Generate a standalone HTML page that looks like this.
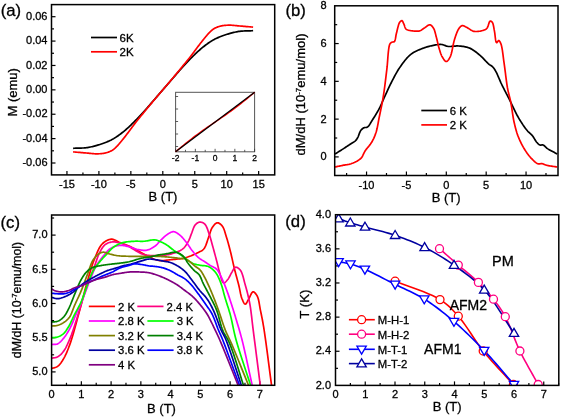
<!DOCTYPE html>
<html><head><meta charset="utf-8"><style>
html,body{margin:0;padding:0;background:#fff;width:562px;height:417px;overflow:hidden}
svg{display:block;will-change:transform}
text{font-family:"Liberation Sans",sans-serif;fill:#000;stroke:#000;stroke-width:0.3px}
</style></head><body>
<svg width="562" height="417" viewBox="0 0 562 417" font-family="Liberation Sans, sans-serif" fill="#000"><line x1="66.95" y1="174.90" x2="66.95" y2="170.90" stroke="#000" stroke-width="1.20"/>
<line x1="82.93" y1="174.90" x2="82.93" y2="172.40" stroke="#000" stroke-width="1.20"/>
<line x1="98.90" y1="174.90" x2="98.90" y2="170.90" stroke="#000" stroke-width="1.20"/>
<line x1="114.88" y1="174.90" x2="114.88" y2="172.40" stroke="#000" stroke-width="1.20"/>
<line x1="130.85" y1="174.90" x2="130.85" y2="170.90" stroke="#000" stroke-width="1.20"/>
<line x1="146.83" y1="174.90" x2="146.83" y2="172.40" stroke="#000" stroke-width="1.20"/>
<line x1="162.80" y1="174.90" x2="162.80" y2="170.90" stroke="#000" stroke-width="1.20"/>
<line x1="178.78" y1="174.90" x2="178.78" y2="172.40" stroke="#000" stroke-width="1.20"/>
<line x1="194.75" y1="174.90" x2="194.75" y2="170.90" stroke="#000" stroke-width="1.20"/>
<line x1="210.73" y1="174.90" x2="210.73" y2="172.40" stroke="#000" stroke-width="1.20"/>
<line x1="226.70" y1="174.90" x2="226.70" y2="170.90" stroke="#000" stroke-width="1.20"/>
<line x1="242.68" y1="174.90" x2="242.68" y2="172.40" stroke="#000" stroke-width="1.20"/>
<line x1="258.65" y1="174.90" x2="258.65" y2="170.90" stroke="#000" stroke-width="1.20"/>
<line x1="51.50" y1="163.00" x2="55.50" y2="163.00" stroke="#000" stroke-width="1.20"/>
<line x1="51.50" y1="150.81" x2="54.00" y2="150.81" stroke="#000" stroke-width="1.20"/>
<line x1="51.50" y1="138.62" x2="55.50" y2="138.62" stroke="#000" stroke-width="1.20"/>
<line x1="51.50" y1="126.43" x2="54.00" y2="126.43" stroke="#000" stroke-width="1.20"/>
<line x1="51.50" y1="114.23" x2="55.50" y2="114.23" stroke="#000" stroke-width="1.20"/>
<line x1="51.50" y1="102.04" x2="54.00" y2="102.04" stroke="#000" stroke-width="1.20"/>
<line x1="51.50" y1="89.85" x2="55.50" y2="89.85" stroke="#000" stroke-width="1.20"/>
<line x1="51.50" y1="77.66" x2="54.00" y2="77.66" stroke="#000" stroke-width="1.20"/>
<line x1="51.50" y1="65.47" x2="55.50" y2="65.47" stroke="#000" stroke-width="1.20"/>
<line x1="51.50" y1="53.27" x2="54.00" y2="53.27" stroke="#000" stroke-width="1.20"/>
<line x1="51.50" y1="41.08" x2="55.50" y2="41.08" stroke="#000" stroke-width="1.20"/>
<line x1="51.50" y1="28.89" x2="54.00" y2="28.89" stroke="#000" stroke-width="1.20"/>
<line x1="51.50" y1="16.70" x2="55.50" y2="16.70" stroke="#000" stroke-width="1.20"/>
<text x="66.95" y="187.50" font-size="11.00" text-anchor="middle" >-15</text>
<text x="98.90" y="187.50" font-size="11.00" text-anchor="middle" >-10</text>
<text x="130.85" y="187.50" font-size="11.00" text-anchor="middle" >-5</text>
<text x="162.80" y="187.50" font-size="11.00" text-anchor="middle" >0</text>
<text x="194.75" y="187.50" font-size="11.00" text-anchor="middle" >5</text>
<text x="226.70" y="187.50" font-size="11.00" text-anchor="middle" >10</text>
<text x="258.65" y="187.50" font-size="11.00" text-anchor="middle" >15</text>
<text x="47.50" y="19.80" font-size="11.00" text-anchor="end" >0.06</text>
<text x="47.50" y="44.18" font-size="11.00" text-anchor="end" >0.04</text>
<text x="47.50" y="68.57" font-size="11.00" text-anchor="end" >0.02</text>
<text x="47.50" y="92.95" font-size="11.00" text-anchor="end" >0.00</text>
<text x="47.50" y="117.33" font-size="11.00" text-anchor="end" >-0.02</text>
<text x="47.50" y="141.72" font-size="11.00" text-anchor="end" >-0.04</text>
<text x="47.50" y="166.10" font-size="11.00" text-anchor="end" >-0.06</text>
<text x="163.00" y="200.50" font-size="13.00" text-anchor="middle" >B (T)</text>
<text transform="translate(17.0 92.3) rotate(-90)" font-size="13" text-anchor="middle">M (emu)</text>
<text x="0.70" y="16.40" font-size="16.70" text-anchor="start" >(a)</text>
<path d="M73.10 148.30 L74.44 148.25 L75.80 148.21 L77.16 148.18 L78.53 148.15 L79.89 148.12 L81.24 148.08 L82.57 148.02 L83.88 147.95 L85.16 147.84 L86.40 147.70 L87.44 147.55 L88.47 147.38 L89.48 147.20 L90.47 147.00 L91.44 146.78 L92.40 146.56 L93.35 146.32 L94.28 146.08 L95.20 145.84 L96.10 145.60 L96.89 145.38 L97.66 145.16 L98.42 144.93 L99.17 144.70 L99.90 144.46 L100.63 144.22 L101.35 143.97 L102.07 143.72 L102.79 143.46 L103.50 143.20 L104.18 142.95 L104.86 142.70 L105.53 142.44 L106.20 142.18 L106.86 141.92 L107.52 141.65 L108.17 141.38 L108.82 141.10 L109.46 140.80 L110.10 140.50 L110.72 140.20 L111.32 139.89 L111.91 139.59 L112.49 139.27 L113.07 138.95 L113.66 138.62 L114.25 138.27 L114.85 137.90 L115.47 137.51 L116.10 137.10 L116.94 136.54 L117.81 135.94 L118.70 135.30 L119.60 134.64 L120.52 133.96 L121.45 133.25 L122.37 132.53 L123.29 131.79 L124.20 131.05 L125.10 130.30 L126.04 129.50 L126.97 128.69 L127.89 127.86 L128.81 127.02 L129.73 126.16 L130.65 125.29 L131.57 124.39 L132.50 123.48 L133.44 122.55 L134.40 121.60 L135.52 120.47 L136.67 119.29 L137.83 118.07 L139.01 116.82 L140.19 115.56 L141.37 114.29 L142.53 113.01 L143.68 111.75 L144.81 110.51 L145.90 109.30 L146.87 108.21 L147.83 107.13 L148.77 106.05 L149.70 104.98 L150.62 103.92 L151.53 102.86 L152.43 101.81 L153.32 100.76 L154.21 99.73 L155.10 98.70 L155.92 97.75 L156.74 96.82 L157.54 95.89 L158.34 94.97 L159.13 94.06 L159.93 93.15 L160.72 92.24 L161.51 91.33 L162.30 90.42 L163.10 89.50 L163.90 88.58 L164.69 87.67 L165.48 86.76 L166.27 85.85 L167.07 84.94 L167.86 84.03 L168.66 83.11 L169.46 82.18 L170.28 81.25 L171.10 80.30 L171.99 79.27 L172.88 78.24 L173.77 77.19 L174.67 76.14 L175.58 75.08 L176.50 74.02 L177.43 72.95 L178.37 71.87 L179.33 70.79 L180.30 69.70 L181.39 68.49 L182.52 67.25 L183.67 65.99 L184.83 64.71 L186.01 63.44 L187.19 62.18 L188.37 60.93 L189.53 59.71 L190.68 58.53 L191.80 57.40 L192.76 56.45 L193.70 55.52 L194.63 54.61 L195.55 53.71 L196.47 52.84 L197.39 51.98 L198.31 51.14 L199.23 50.31 L200.16 49.50 L201.10 48.70 L202.00 47.95 L202.91 47.21 L203.83 46.47 L204.75 45.75 L205.68 45.04 L206.60 44.36 L207.50 43.70 L208.39 43.06 L209.26 42.46 L210.10 41.90 L210.73 41.49 L211.35 41.10 L211.95 40.73 L212.54 40.38 L213.13 40.05 L213.71 39.73 L214.29 39.41 L214.88 39.11 L215.48 38.80 L216.10 38.50 L216.74 38.20 L217.38 37.90 L218.03 37.62 L218.68 37.35 L219.34 37.08 L220.00 36.82 L220.67 36.56 L221.34 36.30 L222.02 36.05 L222.70 35.80 L223.41 35.54 L224.13 35.28 L224.85 35.03 L225.57 34.78 L226.30 34.54 L227.03 34.30 L227.78 34.07 L228.54 33.84 L229.31 33.62 L230.10 33.40 L231.00 33.16 L231.92 32.92 L232.85 32.68 L233.80 32.44 L234.76 32.22 L235.73 32.00 L236.72 31.80 L237.73 31.62 L238.76 31.45 L239.80 31.30 L241.04 31.16 L242.32 31.05 L243.63 30.98 L244.96 30.92 L246.31 30.88 L247.67 30.85 L249.04 30.82 L250.40 30.79 L251.76 30.75 L253.10 30.70" fill="none" stroke="#000" stroke-width="1.7"/>
<path d="M73.10 151.90 L74.44 152.01 L75.79 152.12 L77.16 152.24 L78.52 152.35 L79.88 152.46 L81.23 152.57 L82.56 152.68 L83.87 152.79 L85.15 152.90 L86.40 153.00 L87.44 153.09 L88.46 153.19 L89.47 153.29 L90.47 153.40 L91.44 153.49 L92.41 153.59 L93.35 153.67 L94.29 153.73 L95.20 153.78 L96.10 153.80 L96.85 153.81 L97.58 153.80 L98.31 153.79 L99.02 153.77 L99.72 153.74 L100.41 153.70 L101.09 153.64 L101.77 153.58 L102.44 153.50 L103.10 153.40 L103.71 153.30 L104.32 153.19 L104.92 153.06 L105.52 152.93 L106.11 152.78 L106.69 152.63 L107.26 152.46 L107.82 152.28 L108.37 152.10 L108.90 151.90 L109.36 151.72 L109.80 151.53 L110.24 151.34 L110.67 151.13 L111.08 150.92 L111.49 150.70 L111.90 150.47 L112.30 150.23 L112.70 149.97 L113.10 149.70 L113.52 149.40 L113.93 149.08 L114.33 148.75 L114.73 148.41 L115.12 148.05 L115.51 147.69 L115.90 147.31 L116.30 146.91 L116.70 146.51 L117.10 146.10 L117.59 145.59 L118.07 145.07 L118.56 144.53 L119.05 143.97 L119.54 143.39 L120.04 142.80 L120.54 142.20 L121.05 141.58 L121.57 140.94 L122.10 140.30 L122.76 139.48 L123.44 138.63 L124.14 137.75 L124.85 136.85 L125.56 135.92 L126.28 134.99 L127.00 134.06 L127.71 133.13 L128.41 132.20 L129.10 131.30 L129.75 130.44 L130.37 129.60 L130.99 128.76 L131.60 127.93 L132.21 127.09 L132.83 126.25 L133.46 125.39 L134.11 124.52 L134.79 123.62 L135.50 122.70 L136.45 121.50 L137.45 120.24 L138.49 118.94 L139.57 117.62 L140.67 116.28 L141.78 114.93 L142.89 113.59 L143.99 112.26 L145.06 110.96 L146.10 109.70 L147.03 108.57 L147.95 107.46 L148.86 106.36 L149.77 105.27 L150.67 104.18 L151.57 103.11 L152.46 102.05 L153.34 100.99 L154.22 99.94 L155.10 98.90 L155.92 97.93 L156.73 96.98 L157.53 96.03 L158.33 95.09 L159.13 94.16 L159.92 93.23 L160.71 92.30 L161.51 91.37 L162.30 90.44 L163.10 89.50 L163.90 88.56 L164.69 87.63 L165.49 86.70 L166.28 85.77 L167.07 84.84 L167.87 83.91 L168.67 82.97 L169.47 82.02 L170.28 81.07 L171.10 80.10 L171.98 79.06 L172.86 78.01 L173.74 76.95 L174.63 75.89 L175.53 74.82 L176.43 73.73 L177.34 72.64 L178.25 71.54 L179.17 70.43 L180.10 69.30 L181.14 68.04 L182.21 66.74 L183.31 65.41 L184.42 64.07 L185.53 62.72 L186.63 61.38 L187.71 60.06 L188.75 58.76 L189.75 57.50 L190.70 56.30 L191.41 55.38 L192.09 54.48 L192.74 53.61 L193.37 52.75 L193.99 51.91 L194.60 51.07 L195.21 50.24 L195.83 49.40 L196.45 48.56 L197.10 47.70 L197.79 46.80 L198.49 45.87 L199.20 44.94 L199.92 44.01 L200.64 43.08 L201.35 42.15 L202.06 41.25 L202.76 40.37 L203.44 39.52 L204.10 38.70 L204.63 38.06 L205.15 37.42 L205.66 36.80 L206.16 36.20 L206.66 35.61 L207.15 35.03 L207.64 34.47 L208.13 33.93 L208.61 33.41 L209.10 32.90 L209.50 32.49 L209.90 32.09 L210.30 31.69 L210.69 31.31 L211.08 30.95 L211.47 30.59 L211.87 30.25 L212.27 29.92 L212.68 29.60 L213.10 29.30 L213.50 29.03 L213.90 28.77 L214.30 28.53 L214.71 28.30 L215.12 28.08 L215.53 27.87 L215.96 27.66 L216.40 27.47 L216.84 27.28 L217.30 27.10 L217.83 26.90 L218.38 26.72 L218.94 26.54 L219.51 26.37 L220.09 26.22 L220.68 26.07 L221.28 25.94 L221.88 25.81 L222.49 25.70 L223.10 25.60 L223.76 25.50 L224.43 25.42 L225.11 25.36 L225.79 25.30 L226.48 25.26 L227.18 25.23 L227.89 25.21 L228.62 25.20 L229.35 25.19 L230.10 25.20 L231.00 25.22 L231.91 25.27 L232.85 25.33 L233.79 25.41 L234.76 25.51 L235.73 25.60 L236.73 25.71 L237.74 25.81 L238.76 25.91 L239.80 26.00 L241.05 26.10 L242.33 26.21 L243.64 26.32 L244.97 26.43 L246.32 26.54 L247.68 26.65 L249.04 26.76 L250.41 26.88 L251.76 26.99 L253.10 27.10" fill="none" stroke="#f00" stroke-width="1.7"/>
<line x1="91" y1="37.5" x2="117" y2="37.5" stroke="#000" stroke-width="1.7"/>
<line x1="91" y1="51.8" x2="117" y2="51.8" stroke="#f00" stroke-width="1.7"/>
<text x="119.50" y="41.80" font-size="11.50" text-anchor="start" >6K</text>
<text x="119.50" y="56.00" font-size="11.50" text-anchor="start" >2K</text>
<rect x="175.60" y="92.30" width="79.00" height="59.50" fill="#fff" stroke="#555" stroke-width="1"/>
<line x1="175.60" y1="151.80" x2="175.60" y2="148.80" stroke="#333" stroke-width="0.8"/>
<line x1="185.47" y1="151.80" x2="185.47" y2="149.80" stroke="#333" stroke-width="0.8"/>
<line x1="195.35" y1="151.80" x2="195.35" y2="148.80" stroke="#333" stroke-width="0.8"/>
<line x1="205.22" y1="151.80" x2="205.22" y2="149.80" stroke="#333" stroke-width="0.8"/>
<line x1="215.10" y1="151.80" x2="215.10" y2="148.80" stroke="#333" stroke-width="0.8"/>
<line x1="224.97" y1="151.80" x2="224.97" y2="149.80" stroke="#333" stroke-width="0.8"/>
<line x1="234.85" y1="151.80" x2="234.85" y2="148.80" stroke="#333" stroke-width="0.8"/>
<line x1="244.72" y1="151.80" x2="244.72" y2="149.80" stroke="#333" stroke-width="0.8"/>
<line x1="254.60" y1="151.80" x2="254.60" y2="148.80" stroke="#333" stroke-width="0.8"/>
<line x1="175.60" y1="96.50" x2="178.10" y2="96.50" stroke="#333" stroke-width="0.8"/>
<line x1="175.60" y1="109.00" x2="178.10" y2="109.00" stroke="#333" stroke-width="0.8"/>
<line x1="175.60" y1="121.50" x2="178.10" y2="121.50" stroke="#333" stroke-width="0.8"/>
<line x1="175.60" y1="134.00" x2="178.10" y2="134.00" stroke="#333" stroke-width="0.8"/>
<line x1="175.60" y1="146.50" x2="178.10" y2="146.50" stroke="#333" stroke-width="0.8"/>
<path d="M175.60 151.80 L177.57 150.16 L179.55 148.52 L181.53 146.88 L183.50 145.26 L185.47 143.66 L187.45 142.07 L189.42 140.50 L191.40 138.95 L193.38 137.42 L195.35 135.93 L197.32 134.45 L199.30 133.00 L201.28 131.57 L203.25 130.17 L205.22 128.78 L207.20 127.41 L209.17 126.06 L211.15 124.72 L213.12 123.38 L215.10 122.05 L217.07 120.72 L219.05 119.38 L221.02 118.04 L223.00 116.69 L224.97 115.32 L226.95 113.93 L228.93 112.53 L230.90 111.10 L232.88 109.65 L234.85 108.17 L236.82 106.68 L238.80 105.15 L240.77 103.60 L242.75 102.03 L244.72 100.44 L246.70 98.84 L248.68 97.22 L250.65 95.58 L252.62 93.94 L254.60 92.30" fill="none" stroke="#f00" stroke-width="1.4"/>
<line x1="175.60" y1="151.80" x2="254.60" y2="92.30" stroke="#000" stroke-width="1.2"/>
<text x="175.60" y="160.50" font-size="8.50" text-anchor="middle" >-2</text>
<text x="195.35" y="160.50" font-size="8.50" text-anchor="middle" >-1</text>
<text x="215.10" y="160.50" font-size="8.50" text-anchor="middle" >0</text>
<text x="234.85" y="160.50" font-size="8.50" text-anchor="middle" >1</text>
<text x="254.60" y="160.50" font-size="8.50" text-anchor="middle" >2</text>
<line x1="346.61" y1="175.50" x2="346.61" y2="173.00" stroke="#000" stroke-width="1.20"/>
<line x1="366.55" y1="175.50" x2="366.55" y2="171.50" stroke="#000" stroke-width="1.20"/>
<line x1="386.49" y1="175.50" x2="386.49" y2="173.00" stroke="#000" stroke-width="1.20"/>
<line x1="406.43" y1="175.50" x2="406.43" y2="171.50" stroke="#000" stroke-width="1.20"/>
<line x1="426.36" y1="175.50" x2="426.36" y2="173.00" stroke="#000" stroke-width="1.20"/>
<line x1="446.30" y1="175.50" x2="446.30" y2="171.50" stroke="#000" stroke-width="1.20"/>
<line x1="466.24" y1="175.50" x2="466.24" y2="173.00" stroke="#000" stroke-width="1.20"/>
<line x1="486.18" y1="175.50" x2="486.18" y2="171.50" stroke="#000" stroke-width="1.20"/>
<line x1="506.11" y1="175.50" x2="506.11" y2="173.00" stroke="#000" stroke-width="1.20"/>
<line x1="526.05" y1="175.50" x2="526.05" y2="171.50" stroke="#000" stroke-width="1.20"/>
<line x1="545.99" y1="175.50" x2="545.99" y2="173.00" stroke="#000" stroke-width="1.20"/>
<line x1="334.70" y1="156.90" x2="338.70" y2="156.90" stroke="#000" stroke-width="1.20"/>
<line x1="334.70" y1="138.01" x2="337.20" y2="138.01" stroke="#000" stroke-width="1.20"/>
<line x1="334.70" y1="119.12" x2="338.70" y2="119.12" stroke="#000" stroke-width="1.20"/>
<line x1="334.70" y1="100.23" x2="337.20" y2="100.23" stroke="#000" stroke-width="1.20"/>
<line x1="334.70" y1="81.34" x2="338.70" y2="81.34" stroke="#000" stroke-width="1.20"/>
<line x1="334.70" y1="62.45" x2="337.20" y2="62.45" stroke="#000" stroke-width="1.20"/>
<line x1="334.70" y1="43.56" x2="338.70" y2="43.56" stroke="#000" stroke-width="1.20"/>
<line x1="334.70" y1="24.67" x2="337.20" y2="24.67" stroke="#000" stroke-width="1.20"/>
<text x="366.55" y="188.70" font-size="11.00" text-anchor="middle" >-10</text>
<text x="406.43" y="188.70" font-size="11.00" text-anchor="middle" >-5</text>
<text x="446.30" y="188.70" font-size="11.00" text-anchor="middle" >0</text>
<text x="486.18" y="188.70" font-size="11.00" text-anchor="middle" >5</text>
<text x="526.05" y="188.70" font-size="11.00" text-anchor="middle" >10</text>
<text x="326.60" y="160.40" font-size="11.00" text-anchor="end" >0</text>
<text x="326.60" y="122.62" font-size="11.00" text-anchor="end" >2</text>
<text x="326.60" y="84.84" font-size="11.00" text-anchor="end" >4</text>
<text x="326.60" y="47.06" font-size="11.00" text-anchor="end" >6</text>
<text x="326.60" y="9.28" font-size="11.00" text-anchor="end" >8</text>
<text x="446.20" y="202.00" font-size="13.00" text-anchor="middle" >B (T)</text>
<text transform="translate(305.4 94.5) rotate(-90)" font-size="13" text-anchor="middle">dM/dH (10<tspan font-size="8" dy="-4.5">-7</tspan><tspan dy="4.5">emu/mol)</tspan></text>
<text x="285.50" y="16.30" font-size="16.70" text-anchor="start" >(b)</text>
<path d="M335.00 154.00 L335.87 153.46 L336.74 152.91 L337.62 152.36 L338.50 151.81 L339.38 151.27 L340.25 150.72 L341.11 150.18 L341.96 149.65 L342.79 149.12 L343.60 148.60 L344.29 148.15 L344.97 147.71 L345.64 147.27 L346.30 146.83 L346.95 146.40 L347.59 145.97 L348.23 145.55 L348.85 145.13 L349.48 144.71 L350.10 144.30 L350.67 143.93 L351.26 143.57 L351.85 143.21 L352.44 142.85 L353.02 142.50 L353.58 142.15 L354.11 141.80 L354.62 141.44 L355.08 141.07 L355.50 140.70 L355.78 140.43 L356.02 140.16 L356.25 139.90 L356.45 139.63 L356.65 139.36 L356.83 139.09 L357.02 138.80 L357.20 138.49 L357.39 138.16 L357.60 137.80 L357.92 137.18 L358.23 136.47 L358.53 135.68 L358.84 134.85 L359.15 134.00 L359.47 133.16 L359.80 132.34 L360.15 131.57 L360.51 130.89 L360.90 130.30 L361.19 129.94 L361.49 129.60 L361.79 129.29 L362.11 129.00 L362.43 128.73 L362.75 128.49 L363.08 128.26 L363.42 128.05 L363.76 127.87 L364.10 127.70 L364.41 127.59 L364.74 127.52 L365.06 127.49 L365.40 127.48 L365.73 127.48 L366.07 127.48 L366.40 127.45 L366.74 127.38 L367.07 127.27 L367.40 127.10 L367.94 126.68 L368.47 126.13 L369.00 125.47 L369.52 124.73 L370.05 123.91 L370.57 123.05 L371.10 122.15 L371.63 121.25 L372.16 120.36 L372.70 119.50 L373.34 118.51 L374.00 117.48 L374.67 116.43 L375.34 115.36 L376.01 114.26 L376.68 113.16 L377.34 112.05 L377.98 110.93 L378.60 109.81 L379.20 108.70 L379.76 107.61 L380.29 106.52 L380.80 105.42 L381.30 104.33 L381.78 103.22 L382.27 102.11 L382.75 100.98 L383.25 99.84 L383.76 98.68 L384.30 97.50 L384.93 96.13 L385.57 94.72 L386.22 93.29 L386.88 91.84 L387.55 90.38 L388.23 88.90 L388.93 87.42 L389.64 85.94 L390.36 84.47 L391.10 83.00 L391.89 81.46 L392.68 79.90 L393.49 78.33 L394.31 76.75 L395.15 75.18 L396.01 73.61 L396.89 72.07 L397.80 70.55 L398.73 69.05 L399.70 67.60 L400.68 66.19 L401.68 64.76 L402.72 63.33 L403.77 61.91 L404.85 60.53 L405.95 59.19 L407.07 57.92 L408.20 56.72 L409.34 55.60 L410.50 54.60 L411.46 53.86 L412.44 53.18 L413.43 52.57 L414.43 52.00 L415.44 51.48 L416.46 50.99 L417.48 50.52 L418.52 50.08 L419.56 49.64 L420.60 49.20 L421.64 48.77 L422.69 48.36 L423.76 47.97 L424.83 47.60 L425.90 47.25 L426.98 46.92 L428.06 46.61 L429.14 46.32 L430.22 46.05 L431.30 45.80 L432.35 45.57 L433.42 45.35 L434.50 45.14 L435.59 44.94 L436.67 44.77 L437.73 44.63 L438.78 44.53 L439.79 44.46 L440.77 44.45 L441.70 44.50 L442.39 44.59 L443.04 44.75 L443.66 44.94 L444.25 45.17 L444.84 45.41 L445.43 45.66 L446.03 45.89 L446.65 46.10 L447.30 46.28 L448.00 46.40 L448.96 46.48 L449.97 46.48 L451.02 46.44 L452.10 46.35 L453.21 46.24 L454.34 46.14 L455.47 46.04 L456.60 45.97 L457.71 45.95 L458.80 46.00 L459.89 46.09 L460.98 46.19 L462.08 46.30 L463.17 46.44 L464.26 46.60 L465.35 46.81 L466.43 47.05 L467.50 47.34 L468.56 47.69 L469.60 48.10 L470.73 48.63 L471.86 49.24 L472.98 49.93 L474.09 50.67 L475.18 51.47 L476.27 52.29 L477.33 53.14 L478.38 54.00 L479.40 54.86 L480.40 55.70 L481.35 56.54 L482.29 57.43 L483.22 58.38 L484.14 59.34 L485.03 60.30 L485.90 61.23 L486.74 62.12 L487.54 62.95 L488.29 63.68 L489.00 64.30 L489.38 64.59 L489.74 64.84 L490.09 65.06 L490.43 65.26 L490.75 65.44 L491.07 65.61 L491.38 65.80 L491.69 66.00 L492.00 66.23 L492.30 66.50 L492.65 66.84 L492.98 67.20 L493.30 67.56 L493.61 67.95 L493.92 68.36 L494.23 68.79 L494.54 69.24 L494.85 69.73 L495.17 70.25 L495.50 70.80 L496.06 71.81 L496.62 72.93 L497.19 74.16 L497.77 75.48 L498.36 76.85 L498.96 78.27 L499.58 79.71 L500.20 81.16 L500.84 82.60 L501.50 84.00 L502.26 85.55 L503.04 87.12 L503.84 88.70 L504.66 90.31 L505.49 91.92 L506.34 93.55 L507.18 95.18 L508.03 96.82 L508.87 98.46 L509.70 100.10 L510.55 101.82 L511.39 103.57 L512.23 105.34 L513.08 107.12 L513.92 108.90 L514.77 110.67 L515.63 112.42 L516.50 114.13 L517.39 115.79 L518.30 117.40 L519.14 118.82 L520.00 120.24 L520.88 121.64 L521.77 123.03 L522.66 124.39 L523.56 125.70 L524.45 126.96 L525.32 128.15 L526.17 129.27 L527.00 130.30 L527.57 130.96 L528.13 131.56 L528.70 132.11 L529.26 132.63 L529.81 133.12 L530.35 133.61 L530.88 134.10 L531.40 134.60 L531.91 135.13 L532.40 135.70 L532.88 136.32 L533.33 136.98 L533.77 137.67 L534.20 138.37 L534.62 139.08 L535.03 139.77 L535.44 140.45 L535.86 141.08 L536.27 141.67 L536.70 142.20 L537.02 142.56 L537.33 142.92 L537.64 143.26 L537.95 143.59 L538.27 143.89 L538.58 144.18 L538.90 144.43 L539.23 144.66 L539.56 144.85 L539.90 145.00 L540.20 145.08 L540.51 145.11 L540.83 145.09 L541.15 145.05 L541.47 145.00 L541.79 144.94 L542.12 144.90 L542.45 144.89 L542.77 144.92 L543.10 145.00 L543.52 145.19 L543.94 145.45 L544.34 145.77 L544.75 146.13 L545.16 146.53 L545.58 146.95 L546.02 147.37 L546.48 147.80 L546.97 148.21 L547.50 148.60 L548.30 149.12 L549.18 149.65 L550.11 150.19 L551.08 150.73 L552.09 151.27 L553.12 151.82 L554.16 152.37 L555.19 152.91 L556.21 153.46 L557.20 154.00" fill="none" stroke="#000" stroke-width="1.7"/>
<path d="M335.00 167.00 L335.86 166.82 L336.73 166.64 L337.60 166.45 L338.47 166.27 L339.33 166.09 L340.20 165.90 L341.06 165.72 L341.91 165.55 L342.76 165.37 L343.60 165.20 L344.38 165.05 L345.14 164.93 L345.90 164.82 L346.65 164.72 L347.40 164.61 L348.15 164.49 L348.90 164.35 L349.66 164.17 L350.42 163.96 L351.20 163.70 L352.17 163.33 L353.18 162.92 L354.22 162.47 L355.28 161.98 L356.33 161.45 L357.36 160.89 L358.35 160.29 L359.28 159.65 L360.13 158.99 L360.90 158.30 L361.49 157.65 L361.99 156.97 L362.44 156.24 L362.84 155.49 L363.21 154.72 L363.57 153.94 L363.93 153.14 L364.31 152.35 L364.73 151.57 L365.20 150.80 L365.79 149.95 L366.42 149.11 L367.09 148.27 L367.78 147.43 L368.47 146.59 L369.17 145.74 L369.85 144.87 L370.51 144.00 L371.13 143.11 L371.70 142.20 L372.22 141.29 L372.72 140.38 L373.19 139.46 L373.65 138.53 L374.08 137.58 L374.49 136.62 L374.89 135.63 L375.27 134.62 L375.64 133.58 L376.00 132.50 L376.41 131.15 L376.77 129.76 L377.11 128.32 L377.42 126.85 L377.72 125.34 L378.01 123.80 L378.29 122.23 L378.58 120.64 L378.88 119.03 L379.20 117.40 L379.60 115.46 L380.01 113.48 L380.43 111.47 L380.86 109.42 L381.29 107.33 L381.71 105.22 L382.13 103.08 L382.53 100.91 L382.93 98.72 L383.30 96.50 L383.70 93.96 L384.08 91.35 L384.44 88.70 L384.80 86.01 L385.14 83.29 L385.47 80.55 L385.81 77.82 L386.13 75.09 L386.47 72.38 L386.80 69.70 L387.11 66.95 L387.37 63.99 L387.61 60.92 L387.84 57.81 L388.08 54.77 L388.35 51.89 L388.66 49.26 L389.02 46.98 L389.46 45.12 L390.00 43.80 L390.20 43.49 L390.40 43.23 L390.61 43.00 L390.83 42.82 L391.05 42.66 L391.28 42.53 L391.51 42.41 L391.74 42.30 L391.97 42.20 L392.20 42.10 L392.41 42.03 L392.62 42.00 L392.84 41.98 L393.06 41.99 L393.28 41.99 L393.50 41.99 L393.71 41.97 L393.92 41.93 L394.12 41.84 L394.30 41.70 L394.63 41.26 L394.91 40.65 L395.15 39.90 L395.35 39.02 L395.54 38.06 L395.71 37.05 L395.88 36.01 L396.06 34.96 L396.27 33.95 L396.50 33.00 L396.78 31.93 L397.06 30.77 L397.35 29.55 L397.64 28.32 L397.95 27.09 L398.26 25.91 L398.59 24.81 L398.94 23.82 L399.31 22.97 L399.70 22.30 L399.91 22.02 L400.12 21.76 L400.34 21.51 L400.57 21.29 L400.80 21.09 L401.03 20.93 L401.26 20.81 L401.48 20.72 L401.70 20.68 L401.90 20.70 L402.14 20.81 L402.37 21.03 L402.59 21.33 L402.80 21.70 L403.00 22.12 L403.20 22.57 L403.40 23.05 L403.60 23.52 L403.80 23.98 L404.00 24.40 L404.21 24.86 L404.40 25.36 L404.57 25.88 L404.73 26.42 L404.90 26.95 L405.09 27.47 L405.30 27.96 L405.55 28.43 L405.85 28.84 L406.20 29.20 L406.68 29.54 L407.22 29.82 L407.83 30.05 L408.48 30.24 L409.17 30.40 L409.88 30.53 L410.60 30.64 L411.32 30.73 L412.02 30.82 L412.70 30.90 L413.38 30.98 L414.07 31.06 L414.77 31.13 L415.47 31.18 L416.18 31.21 L416.88 31.22 L417.56 31.20 L418.23 31.14 L418.88 31.04 L419.50 30.90 L420.04 30.72 L420.56 30.50 L421.06 30.24 L421.54 29.95 L422.01 29.63 L422.48 29.30 L422.95 28.97 L423.43 28.63 L423.91 28.31 L424.40 28.00 L424.94 27.65 L425.48 27.25 L426.04 26.82 L426.61 26.38 L427.17 25.95 L427.72 25.56 L428.27 25.22 L428.80 24.97 L429.31 24.82 L429.80 24.80 L430.22 24.89 L430.63 25.06 L431.03 25.30 L431.42 25.60 L431.80 25.96 L432.17 26.36 L432.52 26.79 L432.86 27.25 L433.19 27.72 L433.50 28.20 L433.90 28.91 L434.25 29.69 L434.57 30.55 L434.87 31.47 L435.14 32.43 L435.40 33.42 L435.64 34.42 L435.89 35.43 L436.14 36.43 L436.40 37.40 L436.68 38.43 L436.94 39.48 L437.19 40.55 L437.43 41.63 L437.68 42.72 L437.92 43.80 L438.17 44.88 L438.43 45.94 L438.71 46.98 L439.00 48.00 L439.28 48.93 L439.56 49.88 L439.84 50.82 L440.13 51.75 L440.43 52.67 L440.74 53.57 L441.07 54.44 L441.42 55.27 L441.80 56.06 L442.20 56.80 L442.56 57.40 L442.94 58.03 L443.34 58.67 L443.75 59.30 L444.18 59.88 L444.61 60.41 L445.04 60.86 L445.47 61.20 L445.89 61.42 L446.30 61.50 L446.70 61.42 L447.11 61.22 L447.51 60.90 L447.92 60.48 L448.32 59.98 L448.72 59.41 L449.11 58.80 L449.49 58.15 L449.85 57.47 L450.20 56.80 L450.75 55.52 L451.23 54.02 L451.67 52.33 L452.08 50.51 L452.47 48.61 L452.84 46.67 L453.22 44.74 L453.62 42.87 L454.04 41.11 L454.50 39.50 L454.89 38.27 L455.29 37.04 L455.70 35.82 L456.11 34.62 L456.52 33.46 L456.95 32.35 L457.39 31.31 L457.85 30.34 L458.32 29.47 L458.80 28.70 L459.11 28.27 L459.41 27.85 L459.72 27.45 L460.04 27.08 L460.36 26.74 L460.69 26.44 L461.02 26.18 L461.37 25.97 L461.73 25.81 L462.10 25.70 L462.49 25.66 L462.88 25.69 L463.29 25.78 L463.70 25.91 L464.13 26.09 L464.56 26.29 L465.01 26.51 L465.46 26.75 L465.93 26.98 L466.40 27.20 L467.07 27.54 L467.76 27.95 L468.48 28.41 L469.21 28.90 L469.97 29.41 L470.73 29.90 L471.51 30.35 L472.30 30.75 L473.10 31.08 L473.90 31.30 L474.74 31.43 L475.62 31.50 L476.53 31.50 L477.46 31.46 L478.39 31.37 L479.31 31.24 L480.20 31.08 L481.06 30.90 L481.86 30.70 L482.60 30.50 L483.11 30.35 L483.60 30.20 L484.08 30.03 L484.53 29.86 L484.96 29.67 L485.38 29.46 L485.78 29.22 L486.17 28.95 L486.54 28.65 L486.90 28.30 L487.32 27.73 L487.69 27.00 L488.02 26.16 L488.32 25.25 L488.60 24.33 L488.88 23.44 L489.15 22.63 L489.44 21.95 L489.75 21.46 L490.10 21.20 L490.31 21.15 L490.53 21.15 L490.76 21.19 L491.00 21.26 L491.23 21.37 L491.46 21.51 L491.69 21.68 L491.90 21.87 L492.11 22.08 L492.30 22.30 L492.62 22.81 L492.90 23.45 L493.14 24.21 L493.34 25.06 L493.53 25.98 L493.70 26.95 L493.87 27.95 L494.04 28.95 L494.21 29.94 L494.40 30.90 L494.62 32.10 L494.81 33.48 L494.99 34.97 L495.17 36.51 L495.35 38.02 L495.54 39.43 L495.75 40.67 L495.99 41.68 L496.27 42.38 L496.60 42.70 L496.78 42.68 L496.98 42.55 L497.19 42.32 L497.40 42.02 L497.62 41.70 L497.84 41.37 L498.06 41.06 L498.28 40.81 L498.49 40.65 L498.70 40.60 L498.93 40.66 L499.16 40.80 L499.39 41.02 L499.62 41.29 L499.84 41.62 L500.06 41.99 L500.28 42.41 L500.49 42.85 L500.70 43.32 L500.90 43.80 L501.32 45.04 L501.70 46.56 L502.04 48.30 L502.36 50.23 L502.66 52.29 L502.95 54.45 L503.23 56.67 L503.51 58.89 L503.80 61.09 L504.10 63.20 L504.44 65.59 L504.78 68.07 L505.10 70.63 L505.43 73.23 L505.75 75.84 L506.08 78.43 L506.41 80.97 L506.76 83.43 L507.12 85.79 L507.50 88.00 L507.81 89.58 L508.13 91.08 L508.46 92.52 L508.80 93.90 L509.14 95.26 L509.49 96.61 L509.83 97.97 L510.16 99.36 L510.49 100.80 L510.80 102.30 L511.14 104.13 L511.46 106.03 L511.76 107.98 L512.05 109.97 L512.34 111.97 L512.63 113.98 L512.94 115.98 L513.26 117.94 L513.61 119.85 L514.00 121.70 L514.36 123.30 L514.73 124.88 L515.11 126.44 L515.50 127.97 L515.91 129.49 L516.33 130.98 L516.78 132.46 L517.26 133.92 L517.76 135.37 L518.30 136.80 L518.85 138.17 L519.43 139.53 L520.04 140.88 L520.68 142.22 L521.34 143.54 L522.01 144.84 L522.70 146.11 L523.39 147.35 L524.10 148.54 L524.80 149.70 L525.41 150.67 L526.03 151.61 L526.66 152.54 L527.30 153.44 L527.94 154.31 L528.60 155.16 L529.26 155.99 L529.93 156.79 L530.61 157.56 L531.30 158.30 L531.92 158.95 L532.56 159.61 L533.22 160.27 L533.88 160.91 L534.54 161.52 L535.21 162.09 L535.87 162.61 L536.52 163.06 L537.17 163.42 L537.80 163.70 L538.24 163.82 L538.68 163.88 L539.11 163.89 L539.55 163.86 L539.98 163.81 L540.40 163.75 L540.83 163.70 L541.25 163.66 L541.68 163.66 L542.10 163.70 L542.53 163.79 L542.93 163.91 L543.33 164.05 L543.73 164.20 L544.13 164.37 L544.54 164.55 L544.96 164.72 L545.41 164.89 L545.89 165.05 L546.40 165.20 L547.28 165.41 L548.24 165.60 L549.27 165.79 L550.36 165.97 L551.49 166.14 L552.64 166.31 L553.80 166.48 L554.96 166.65 L556.10 166.82 L557.20 167.00" fill="none" stroke="#f00" stroke-width="1.7"/>
<line x1="421.3" y1="110.5" x2="447" y2="110.5" stroke="#000" stroke-width="1.7"/>
<line x1="421.3" y1="124.9" x2="447" y2="124.9" stroke="#f00" stroke-width="1.7"/>
<text x="449.80" y="114.80" font-size="11.40" text-anchor="start" >6 K</text>
<text x="449.80" y="129.10" font-size="11.40" text-anchor="start" >2 K</text>
<line x1="66.47" y1="385.30" x2="66.47" y2="382.80" stroke="#000" stroke-width="1.20"/>
<line x1="81.35" y1="385.30" x2="81.35" y2="381.30" stroke="#000" stroke-width="1.20"/>
<line x1="96.22" y1="385.30" x2="96.22" y2="382.80" stroke="#000" stroke-width="1.20"/>
<line x1="111.10" y1="385.30" x2="111.10" y2="381.30" stroke="#000" stroke-width="1.20"/>
<line x1="125.97" y1="385.30" x2="125.97" y2="382.80" stroke="#000" stroke-width="1.20"/>
<line x1="140.85" y1="385.30" x2="140.85" y2="381.30" stroke="#000" stroke-width="1.20"/>
<line x1="155.72" y1="385.30" x2="155.72" y2="382.80" stroke="#000" stroke-width="1.20"/>
<line x1="170.60" y1="385.30" x2="170.60" y2="381.30" stroke="#000" stroke-width="1.20"/>
<line x1="185.47" y1="385.30" x2="185.47" y2="382.80" stroke="#000" stroke-width="1.20"/>
<line x1="200.35" y1="385.30" x2="200.35" y2="381.30" stroke="#000" stroke-width="1.20"/>
<line x1="215.22" y1="385.30" x2="215.22" y2="382.80" stroke="#000" stroke-width="1.20"/>
<line x1="230.10" y1="385.30" x2="230.10" y2="381.30" stroke="#000" stroke-width="1.20"/>
<line x1="244.97" y1="385.30" x2="244.97" y2="382.80" stroke="#000" stroke-width="1.20"/>
<line x1="259.85" y1="385.30" x2="259.85" y2="381.30" stroke="#000" stroke-width="1.20"/>
<line x1="51.60" y1="371.90" x2="55.60" y2="371.90" stroke="#000" stroke-width="1.20"/>
<line x1="51.60" y1="354.80" x2="54.10" y2="354.80" stroke="#000" stroke-width="1.20"/>
<line x1="51.60" y1="337.70" x2="55.60" y2="337.70" stroke="#000" stroke-width="1.20"/>
<line x1="51.60" y1="320.60" x2="54.10" y2="320.60" stroke="#000" stroke-width="1.20"/>
<line x1="51.60" y1="303.50" x2="55.60" y2="303.50" stroke="#000" stroke-width="1.20"/>
<line x1="51.60" y1="286.40" x2="54.10" y2="286.40" stroke="#000" stroke-width="1.20"/>
<line x1="51.60" y1="269.30" x2="55.60" y2="269.30" stroke="#000" stroke-width="1.20"/>
<line x1="51.60" y1="252.20" x2="54.10" y2="252.20" stroke="#000" stroke-width="1.20"/>
<line x1="51.60" y1="235.10" x2="55.60" y2="235.10" stroke="#000" stroke-width="1.20"/>
<line x1="51.60" y1="218.00" x2="54.10" y2="218.00" stroke="#000" stroke-width="1.20"/>
<text x="51.60" y="398.40" font-size="11.00" text-anchor="middle" >0</text>
<text x="81.35" y="398.40" font-size="11.00" text-anchor="middle" >1</text>
<text x="111.10" y="398.40" font-size="11.00" text-anchor="middle" >2</text>
<text x="140.85" y="398.40" font-size="11.00" text-anchor="middle" >3</text>
<text x="170.60" y="398.40" font-size="11.00" text-anchor="middle" >4</text>
<text x="200.35" y="398.40" font-size="11.00" text-anchor="middle" >5</text>
<text x="230.10" y="398.40" font-size="11.00" text-anchor="middle" >6</text>
<text x="259.85" y="398.40" font-size="11.00" text-anchor="middle" >7</text>
<text x="47.50" y="375.10" font-size="11.00" text-anchor="end" >5.0</text>
<text x="47.50" y="340.90" font-size="11.00" text-anchor="end" >5.5</text>
<text x="47.50" y="306.70" font-size="11.00" text-anchor="end" >6.0</text>
<text x="47.50" y="272.50" font-size="11.00" text-anchor="end" >6.5</text>
<text x="47.50" y="238.30" font-size="11.00" text-anchor="end" >7.0</text>
<text x="161.50" y="413.40" font-size="13.00" text-anchor="middle" >B (T)</text>
<text transform="translate(20.8 300) rotate(-90)" font-size="12.4" text-anchor="middle">dM/dH (10<tspan font-size="7.8" dy="-4.3">-7</tspan><tspan dy="4.3">emu/mol)</tspan></text>
<text x="0.50" y="227.60" font-size="16.70" text-anchor="start" >(c)</text>
<defs><clipPath id="clipc"><rect x="51.60" y="215.00" width="223.10" height="170.30"/></clipPath><clipPath id="clipd"><rect x="335.5" y="214.7" width="223.3" height="170.7"/></clipPath></defs>
<g clip-path="url(#clipc)">
<path d="M51.60 368.48 L52.20 368.29 L52.81 368.13 L53.42 367.98 L54.03 367.83 L54.64 367.68 L55.24 367.51 L55.84 367.31 L56.42 367.07 L57.00 366.78 L57.55 366.43 L58.21 365.91 L58.85 365.33 L59.47 364.68 L60.08 363.98 L60.67 363.23 L61.25 362.43 L61.82 361.59 L62.39 360.72 L62.95 359.82 L63.50 358.90 L64.21 357.66 L64.90 356.36 L65.58 354.99 L66.23 353.56 L66.88 352.08 L67.52 350.54 L68.15 348.95 L68.78 347.30 L69.41 345.60 L70.05 343.86 L70.90 341.39 L71.75 338.77 L72.59 336.02 L73.42 333.17 L74.25 330.24 L75.07 327.25 L75.90 324.22 L76.72 321.18 L77.55 318.14 L78.38 315.13 L79.27 311.86 L80.16 308.50 L81.06 305.07 L81.95 301.61 L82.84 298.14 L83.74 294.69 L84.63 291.29 L85.52 287.95 L86.41 284.72 L87.30 281.61 L88.04 279.08 L88.76 276.58 L89.48 274.11 L90.19 271.69 L90.90 269.32 L91.63 267.00 L92.37 264.74 L93.13 262.54 L93.92 260.41 L94.74 258.36 L95.41 256.71 L96.08 255.07 L96.74 253.45 L97.42 251.87 L98.11 250.34 L98.83 248.87 L99.59 247.49 L100.39 246.21 L101.25 245.03 L102.17 243.99 L102.96 243.24 L103.78 242.53 L104.65 241.86 L105.54 241.25 L106.45 240.71 L107.38 240.23 L108.32 239.84 L109.25 239.53 L110.18 239.32 L111.10 239.20 L111.98 239.22 L112.85 239.37 L113.72 239.62 L114.59 239.97 L115.47 240.38 L116.35 240.83 L117.25 241.30 L118.16 241.77 L119.08 242.22 L120.03 242.62 L121.14 243.06 L122.28 243.49 L123.44 243.93 L124.62 244.37 L125.81 244.83 L127.02 245.30 L128.23 245.79 L129.46 246.30 L130.69 246.84 L131.93 247.41 L133.37 248.13 L134.84 248.92 L136.33 249.75 L137.84 250.63 L139.36 251.52 L140.88 252.41 L142.39 253.28 L143.89 254.12 L145.36 254.90 L146.80 255.62 L148.03 256.21 L149.23 256.81 L150.43 257.39 L151.61 257.96 L152.78 258.50 L153.95 259.00 L155.13 259.45 L156.31 259.84 L157.50 260.17 L158.70 260.41 L159.87 260.56 L161.03 260.62 L162.20 260.62 L163.37 260.56 L164.54 260.46 L165.73 260.32 L166.92 260.17 L168.13 260.01 L169.36 259.86 L170.60 259.72 L172.03 259.59 L173.49 259.46 L174.98 259.32 L176.49 259.17 L178.01 259.01 L179.54 258.81 L181.05 258.59 L182.55 258.33 L184.03 258.03 L185.48 257.67 L186.89 257.26 L188.34 256.79 L189.79 256.27 L191.24 255.72 L192.67 255.13 L194.05 254.54 L195.38 253.93 L196.64 253.33 L197.80 252.75 L198.86 252.20 L199.49 251.87 L200.08 251.57 L200.64 251.29 L201.16 251.01 L201.66 250.72 L202.14 250.42 L202.60 250.09 L203.05 249.71 L203.49 249.28 L203.92 248.78 L204.52 247.93 L205.07 246.94 L205.59 245.84 L206.08 244.65 L206.54 243.39 L206.98 242.11 L207.41 240.81 L207.83 239.54 L208.25 238.31 L208.68 237.15 L209.05 236.14 L209.39 235.12 L209.71 234.09 L210.02 233.06 L210.33 232.05 L210.65 231.07 L210.99 230.12 L211.37 229.21 L211.78 228.36 L212.25 227.58 L212.68 226.94 L213.13 226.30 L213.62 225.66 L214.12 225.04 L214.64 224.46 L215.17 223.94 L215.70 223.49 L216.24 223.14 L216.78 222.90 L217.31 222.79 L217.81 222.80 L218.33 222.92 L218.86 223.14 L219.40 223.43 L219.93 223.79 L220.46 224.21 L220.97 224.68 L221.47 225.17 L221.93 225.68 L222.37 226.21 L222.89 226.96 L223.36 227.82 L223.78 228.76 L224.17 229.77 L224.53 230.83 L224.88 231.93 L225.21 233.06 L225.54 234.21 L225.88 235.35 L226.23 236.47 L226.64 237.74 L227.04 239.03 L227.44 240.34 L227.82 241.67 L228.21 243.03 L228.59 244.40 L228.96 245.80 L229.34 247.22 L229.72 248.67 L230.10 250.15 L230.55 251.94 L231.00 253.80 L231.44 255.71 L231.89 257.66 L232.33 259.64 L232.77 261.62 L233.22 263.59 L233.66 265.54 L234.11 267.45 L234.56 269.30 L234.98 270.94 L235.40 272.57 L235.83 274.17 L236.25 275.76 L236.68 277.33 L237.10 278.89 L237.52 280.44 L237.94 281.98 L238.34 283.51 L238.73 285.03 L239.07 286.47 L239.39 287.93 L239.69 289.41 L239.99 290.89 L240.28 292.34 L240.58 293.76 L240.90 295.12 L241.23 296.42 L241.60 297.62 L242.00 298.71 L242.29 299.43 L242.60 300.17 L242.91 300.92 L243.23 301.64 L243.57 302.31 L243.90 302.92 L244.25 303.43 L244.59 303.83 L244.93 304.09 L245.27 304.18 L245.62 304.09 L245.97 303.81 L246.32 303.38 L246.67 302.83 L247.03 302.18 L247.39 301.48 L247.75 300.75 L248.11 300.03 L248.48 299.34 L248.84 298.71 L249.25 298.00 L249.65 297.20 L250.05 296.32 L250.46 295.43 L250.86 294.56 L251.28 293.74 L251.69 293.03 L252.12 292.45 L252.56 292.05 L253.01 291.87 L253.41 291.89 L253.83 292.04 L254.27 292.31 L254.71 292.67 L255.16 293.11 L255.60 293.62 L256.02 294.18 L256.43 294.76 L256.82 295.37 L257.17 295.98 L257.67 297.02 L258.09 298.21 L258.46 299.54 L258.79 300.97 L259.08 302.47 L259.35 304.04 L259.61 305.63 L259.87 307.23 L260.15 308.81 L260.45 310.34 L260.78 311.94 L261.11 313.49 L261.42 315.02 L261.74 316.55 L262.05 318.12 L262.37 319.75 L262.69 321.47 L263.02 323.31 L263.36 325.29 L263.72 327.44 L264.44 332.05 L265.20 337.30 L266.01 343.10 L266.85 349.31 L267.71 355.83 L268.58 362.54 L269.46 369.33 L270.34 376.08 L271.20 382.67 L272.05 389.00" fill="none" stroke="#ff0000" stroke-width="1.7"/>
<path d="M51.60 358.22 L52.20 358.10 L52.80 358.00 L53.41 357.91 L54.01 357.82 L54.62 357.73 L55.22 357.63 L55.82 357.49 L56.41 357.33 L56.98 357.12 L57.55 356.85 L58.19 356.49 L58.82 356.08 L59.43 355.63 L60.04 355.14 L60.64 354.60 L61.23 354.03 L61.81 353.42 L62.38 352.77 L62.95 352.09 L63.50 351.38 L64.22 350.36 L64.93 349.25 L65.61 348.06 L66.27 346.80 L66.92 345.49 L67.56 344.12 L68.19 342.72 L68.81 341.29 L69.43 339.84 L70.05 338.38 L70.77 336.60 L71.48 334.77 L72.16 332.89 L72.84 330.96 L73.50 328.99 L74.16 326.98 L74.83 324.92 L75.50 322.83 L76.19 320.71 L76.89 318.55 L77.75 315.88 L78.61 313.09 L79.49 310.21 L80.38 307.27 L81.27 304.29 L82.17 301.31 L83.08 298.34 L83.99 295.42 L84.90 292.57 L85.81 289.82 L86.64 287.42 L87.48 285.04 L88.34 282.69 L89.20 280.36 L90.05 278.06 L90.91 275.81 L91.75 273.59 L92.57 271.42 L93.37 269.31 L94.14 267.25 L94.74 265.59 L95.31 263.95 L95.86 262.33 L96.40 260.73 L96.93 259.17 L97.47 257.65 L98.01 256.19 L98.58 254.79 L99.17 253.46 L99.80 252.20 L100.28 251.29 L100.76 250.41 L101.25 249.55 L101.74 248.72 L102.24 247.93 L102.76 247.18 L103.31 246.48 L103.89 245.82 L104.50 245.22 L105.15 244.68 L105.79 244.22 L106.45 243.80 L107.14 243.42 L107.85 243.08 L108.59 242.78 L109.35 242.53 L110.13 242.32 L110.93 242.15 L111.75 242.02 L112.59 241.94 L113.69 241.91 L114.84 241.97 L116.04 242.11 L117.27 242.33 L118.53 242.60 L119.81 242.94 L121.12 243.32 L122.43 243.74 L123.76 244.20 L125.08 244.68 L126.78 245.40 L128.53 246.29 L130.33 247.32 L132.15 248.43 L133.98 249.58 L135.82 250.72 L137.65 251.81 L139.45 252.79 L141.22 253.62 L142.93 254.25 L144.27 254.62 L145.59 254.92 L146.90 255.14 L148.20 255.31 L149.49 255.42 L150.76 255.50 L152.02 255.55 L153.27 255.58 L154.50 255.60 L155.72 255.62 L156.81 255.63 L157.88 255.63 L158.93 255.61 L159.97 255.57 L161.01 255.52 L162.03 255.44 L163.06 255.34 L164.08 255.23 L165.11 255.09 L166.14 254.94 L167.20 254.76 L168.27 254.55 L169.35 254.33 L170.43 254.09 L171.50 253.83 L172.57 253.54 L173.61 253.24 L174.62 252.91 L175.61 252.57 L176.55 252.20 L177.35 251.87 L178.13 251.53 L178.90 251.18 L179.65 250.82 L180.38 250.43 L181.09 250.03 L181.77 249.60 L182.44 249.13 L183.08 248.63 L183.69 248.10 L184.31 247.48 L184.90 246.80 L185.46 246.08 L186.00 245.33 L186.51 244.54 L187.00 243.75 L187.47 242.94 L187.92 242.13 L188.34 241.34 L188.75 240.57 L189.08 239.89 L189.39 239.22 L189.66 238.55 L189.92 237.88 L190.16 237.21 L190.39 236.53 L190.63 235.85 L190.88 235.15 L191.14 234.45 L191.43 233.73 L191.77 232.86 L192.10 231.93 L192.44 230.96 L192.79 229.97 L193.15 228.98 L193.52 228.02 L193.92 227.10 L194.34 226.25 L194.80 225.49 L195.29 224.84 L195.68 224.41 L196.09 224.01 L196.52 223.63 L196.96 223.29 L197.41 222.98 L197.87 222.71 L198.34 222.48 L198.81 222.30 L199.28 222.17 L199.76 222.10 L200.25 222.09 L200.76 222.13 L201.29 222.23 L201.82 222.37 L202.35 222.56 L202.88 222.80 L203.40 223.08 L203.90 223.40 L204.37 223.76 L204.81 224.16 L205.40 224.83 L205.93 225.64 L206.43 226.56 L206.89 227.58 L207.32 228.67 L207.73 229.81 L208.12 230.98 L208.50 232.15 L208.89 233.30 L209.27 234.42 L209.68 235.59 L210.07 236.77 L210.44 237.98 L210.79 239.19 L211.14 240.42 L211.48 241.67 L211.81 242.92 L212.15 244.18 L212.49 245.45 L212.84 246.73 L213.23 248.12 L213.63 249.55 L214.02 251.00 L214.42 252.46 L214.81 253.93 L215.21 255.40 L215.59 256.86 L215.98 258.30 L216.35 259.71 L216.71 261.09 L217.02 262.31 L217.32 263.51 L217.61 264.70 L217.88 265.87 L218.16 267.04 L218.44 268.19 L218.73 269.34 L219.03 270.47 L219.35 271.60 L219.69 272.72 L220.02 273.86 L220.36 275.11 L220.70 276.42 L221.05 277.74 L221.41 279.01 L221.78 280.20 L222.18 281.24 L222.61 282.08 L223.07 282.68 L223.56 282.98 L223.93 283.00 L224.33 282.89 L224.74 282.66 L225.18 282.34 L225.62 281.94 L226.06 281.49 L226.50 281.01 L226.92 280.51 L227.33 280.02 L227.72 279.56 L228.16 278.99 L228.57 278.37 L228.96 277.70 L229.34 276.99 L229.71 276.27 L230.08 275.53 L230.44 274.80 L230.81 274.07 L231.19 273.38 L231.59 272.72 L231.96 272.10 L232.32 271.43 L232.68 270.74 L233.04 270.04 L233.41 269.38 L233.79 268.76 L234.18 268.21 L234.58 267.76 L235.01 267.43 L235.45 267.25 L235.89 267.21 L236.35 267.26 L236.84 267.39 L237.34 267.60 L237.84 267.88 L238.35 268.21 L238.85 268.60 L239.33 269.03 L239.79 269.49 L240.21 269.98 L240.88 270.95 L241.49 272.13 L242.04 273.48 L242.56 274.98 L243.04 276.58 L243.50 278.26 L243.94 279.98 L244.38 281.70 L244.82 283.40 L245.27 285.03 L245.77 286.78 L246.26 288.53 L246.74 290.30 L247.20 292.08 L247.66 293.89 L248.10 295.74 L248.53 297.61 L248.95 299.53 L249.35 301.49 L249.74 303.50 L250.17 305.96 L250.56 308.45 L250.91 310.98 L251.25 313.55 L251.57 316.19 L251.88 318.91 L252.20 321.73 L252.54 324.65 L252.91 327.69 L253.31 330.86 L253.94 335.80 L254.62 341.10 L255.34 346.71 L256.09 352.56 L256.86 358.58 L257.64 364.70 L258.43 370.88 L259.21 377.03 L259.99 383.09 L260.74 389.00" fill="none" stroke="#ff0080" stroke-width="1.7"/>
<path d="M51.60 344.54 L52.20 344.49 L52.80 344.46 L53.41 344.45 L54.02 344.45 L54.62 344.43 L55.23 344.40 L55.82 344.33 L56.41 344.23 L56.99 344.08 L57.55 343.86 L58.19 343.52 L58.82 343.12 L59.43 342.67 L60.03 342.15 L60.62 341.60 L61.21 341.00 L61.79 340.37 L62.36 339.72 L62.93 339.06 L63.50 338.38 L64.19 337.52 L64.88 336.61 L65.56 335.65 L66.24 334.64 L66.90 333.61 L67.56 332.54 L68.20 331.45 L68.83 330.35 L69.45 329.24 L70.05 328.12 L70.67 326.91 L71.26 325.67 L71.84 324.40 L72.39 323.12 L72.94 321.81 L73.48 320.49 L74.02 319.16 L74.56 317.82 L75.12 316.48 L75.70 315.13 L76.33 313.68 L76.97 312.22 L77.62 310.76 L78.27 309.29 L78.93 307.81 L79.58 306.31 L80.25 304.79 L80.91 303.25 L81.58 301.68 L82.24 300.08 L83.01 298.20 L83.78 296.24 L84.56 294.24 L85.34 292.19 L86.12 290.13 L86.90 288.08 L87.68 286.04 L88.46 284.04 L89.22 282.11 L89.98 280.24 L90.61 278.69 L91.22 277.16 L91.81 275.66 L92.40 274.17 L92.99 272.71 L93.59 271.28 L94.21 269.88 L94.84 268.51 L95.52 267.18 L96.22 265.88 L96.90 264.74 L97.59 263.63 L98.31 262.55 L99.04 261.49 L99.79 260.46 L100.55 259.45 L101.32 258.46 L102.10 257.50 L102.88 256.55 L103.66 255.62 L104.37 254.77 L105.08 253.93 L105.78 253.08 L106.49 252.25 L107.21 251.45 L107.94 250.68 L108.69 249.95 L109.47 249.27 L110.27 248.65 L111.10 248.10 L111.92 247.63 L112.76 247.21 L113.63 246.84 L114.53 246.50 L115.44 246.21 L116.35 245.95 L117.28 245.74 L118.20 245.57 L119.12 245.45 L120.03 245.36 L120.91 245.33 L121.80 245.36 L122.70 245.43 L123.59 245.55 L124.49 245.71 L125.38 245.89 L126.28 246.09 L127.17 246.31 L128.06 246.52 L128.95 246.73 L129.85 246.96 L130.74 247.22 L131.63 247.51 L132.52 247.82 L133.41 248.14 L134.30 248.45 L135.19 248.75 L136.08 249.03 L136.98 249.27 L137.88 249.46 L138.76 249.63 L139.66 249.80 L140.56 249.96 L141.47 250.10 L142.37 250.22 L143.27 250.31 L144.17 250.35 L145.06 250.34 L145.94 250.28 L146.80 250.15 L147.67 249.94 L148.55 249.67 L149.42 249.35 L150.29 248.97 L151.15 248.55 L151.99 248.09 L152.82 247.60 L153.62 247.09 L154.39 246.57 L155.13 246.04 L155.80 245.51 L156.44 244.94 L157.05 244.34 L157.64 243.71 L158.21 243.06 L158.77 242.41 L159.33 241.76 L159.90 241.12 L160.48 240.49 L161.08 239.89 L161.69 239.31 L162.29 238.71 L162.90 238.12 L163.52 237.53 L164.14 236.95 L164.76 236.39 L165.39 235.85 L166.03 235.34 L166.67 234.86 L167.33 234.42 L167.93 234.03 L168.54 233.64 L169.16 233.25 L169.79 232.88 L170.42 232.54 L171.06 232.24 L171.69 231.99 L172.33 231.81 L172.95 231.70 L173.57 231.68 L174.21 231.76 L174.84 231.92 L175.48 232.17 L176.12 232.48 L176.75 232.85 L177.38 233.26 L178.01 233.70 L178.62 234.16 L179.23 234.63 L179.82 235.10 L180.49 235.65 L181.14 236.25 L181.78 236.88 L182.41 237.55 L183.03 238.24 L183.65 238.96 L184.26 239.69 L184.86 240.44 L185.47 241.19 L186.07 241.94 L186.71 242.77 L187.35 243.64 L187.97 244.54 L188.58 245.46 L189.19 246.39 L189.81 247.31 L190.42 248.23 L191.04 249.13 L191.67 250.00 L192.32 250.83 L192.92 251.58 L193.53 252.32 L194.13 253.06 L194.75 253.78 L195.37 254.48 L195.99 255.17 L196.62 255.84 L197.26 256.48 L197.91 257.09 L198.56 257.67 L199.17 258.16 L199.79 258.62 L200.42 259.06 L201.05 259.47 L201.69 259.87 L202.33 260.25 L202.97 260.63 L203.60 261.01 L204.21 261.39 L204.81 261.78 L205.34 262.13 L205.85 262.48 L206.34 262.82 L206.83 263.16 L207.32 263.49 L207.81 263.83 L208.31 264.17 L208.81 264.51 L209.33 264.85 L209.87 265.20 L210.52 265.58 L211.20 265.95 L211.91 266.30 L212.63 266.65 L213.36 267.02 L214.08 267.40 L214.79 267.80 L215.47 268.25 L216.11 268.75 L216.71 269.30 L217.34 270.00 L217.92 270.76 L218.46 271.58 L218.97 272.45 L219.46 273.35 L219.93 274.29 L220.39 275.25 L220.84 276.23 L221.30 277.21 L221.77 278.19 L222.31 279.32 L222.84 280.48 L223.36 281.67 L223.87 282.88 L224.37 284.12 L224.87 285.37 L225.36 286.63 L225.85 287.91 L226.34 289.21 L226.83 290.50 L227.35 291.94 L227.87 293.40 L228.39 294.87 L228.89 296.37 L229.40 297.88 L229.90 299.40 L230.40 300.93 L230.89 302.47 L231.39 304.01 L231.88 305.55 L232.40 307.16 L232.91 308.77 L233.42 310.40 L233.93 312.03 L234.44 313.67 L234.94 315.31 L235.44 316.97 L235.95 318.63 L236.44 320.29 L236.94 321.97 L237.45 323.67 L237.95 325.33 L238.44 326.96 L238.92 328.59 L239.41 330.25 L239.90 331.95 L240.40 333.73 L240.91 335.60 L241.45 337.60 L242.00 339.75 L242.97 343.67 L243.99 348.02 L245.06 352.71 L246.17 357.67 L247.30 362.83 L248.45 368.11 L249.60 373.45 L250.75 378.75 L251.89 383.96 L253.01 389.00" fill="none" stroke="#ff00ff" stroke-width="1.7"/>
<path d="M51.60 337.70 L52.20 337.64 L52.80 337.60 L53.40 337.57 L54.00 337.54 L54.60 337.51 L55.20 337.46 L55.79 337.40 L56.38 337.31 L56.97 337.18 L57.55 337.02 L58.17 336.80 L58.79 336.55 L59.41 336.28 L60.03 335.97 L60.64 335.64 L61.24 335.28 L61.83 334.90 L62.40 334.49 L62.96 334.05 L63.50 333.60 L64.07 333.05 L64.62 332.47 L65.15 331.85 L65.66 331.20 L66.16 330.52 L66.64 329.81 L67.12 329.08 L67.60 328.32 L68.08 327.55 L68.56 326.76 L69.15 325.74 L69.72 324.66 L70.28 323.54 L70.83 322.39 L71.38 321.20 L71.93 319.99 L72.48 318.77 L73.04 317.55 L73.62 316.33 L74.21 315.13 L74.87 313.86 L75.54 312.60 L76.24 311.35 L76.94 310.08 L77.65 308.81 L78.36 307.52 L79.06 306.21 L79.75 304.88 L80.41 303.52 L81.05 302.13 L81.73 300.53 L82.39 298.86 L83.03 297.15 L83.65 295.41 L84.25 293.65 L84.86 291.89 L85.46 290.13 L86.06 288.39 L86.67 286.69 L87.30 285.03 L87.88 283.52 L88.45 282.00 L89.02 280.47 L89.59 278.96 L90.17 277.47 L90.75 276.01 L91.34 274.59 L91.96 273.22 L92.59 271.91 L93.25 270.67 L93.80 269.72 L94.36 268.83 L94.92 267.97 L95.50 267.15 L96.09 266.35 L96.69 265.57 L97.30 264.80 L97.92 264.03 L98.55 263.25 L99.20 262.46 L99.89 261.62 L100.61 260.79 L101.33 259.95 L102.08 259.12 L102.83 258.30 L103.59 257.48 L104.35 256.66 L105.12 255.85 L105.88 255.05 L106.64 254.25 L107.37 253.46 L108.08 252.66 L108.80 251.85 L109.51 251.05 L110.23 250.25 L110.96 249.47 L111.70 248.73 L112.47 248.01 L113.26 247.34 L114.08 246.73 L114.89 246.18 L115.72 245.67 L116.57 245.18 L117.44 244.73 L118.32 244.31 L119.22 243.92 L120.14 243.56 L121.07 243.22 L122.03 242.91 L123.00 242.62 L124.11 242.35 L125.27 242.11 L126.47 241.92 L127.69 241.77 L128.92 241.64 L130.16 241.54 L131.39 241.45 L132.59 241.38 L133.77 241.32 L134.90 241.26 L135.84 241.22 L136.75 241.20 L137.64 241.21 L138.51 241.23 L139.38 241.26 L140.24 241.29 L141.11 241.31 L141.99 241.31 L142.90 241.30 L143.83 241.26 L144.92 241.16 L146.06 241.00 L147.24 240.80 L148.44 240.59 L149.63 240.37 L150.82 240.16 L151.98 240.00 L153.09 239.88 L154.15 239.84 L155.13 239.89 L155.81 239.98 L156.46 240.11 L157.07 240.28 L157.66 240.47 L158.24 240.68 L158.81 240.91 L159.37 241.16 L159.93 241.42 L160.50 241.68 L161.08 241.94 L161.71 242.23 L162.34 242.52 L162.97 242.84 L163.60 243.16 L164.23 243.50 L164.85 243.85 L165.48 244.21 L166.10 244.58 L166.72 244.97 L167.33 245.36 L167.96 245.79 L168.60 246.25 L169.22 246.72 L169.84 247.22 L170.46 247.71 L171.08 248.22 L171.70 248.72 L172.32 249.21 L172.95 249.69 L173.57 250.15 L174.20 250.58 L174.82 251.00 L175.45 251.42 L176.08 251.82 L176.71 252.23 L177.35 252.63 L177.97 253.03 L178.60 253.43 L179.21 253.84 L179.82 254.25 L180.40 254.66 L180.97 255.06 L181.53 255.47 L182.08 255.87 L182.64 256.28 L183.19 256.69 L183.75 257.10 L184.31 257.52 L184.89 257.93 L185.47 258.36 L186.13 258.83 L186.78 259.34 L187.45 259.85 L188.12 260.38 L188.80 260.90 L189.48 261.41 L190.18 261.90 L190.88 262.35 L191.59 262.77 L192.32 263.14 L193.02 263.45 L193.74 263.73 L194.47 263.97 L195.20 264.18 L195.94 264.37 L196.69 264.55 L197.45 264.71 L198.21 264.87 L198.98 265.03 L199.75 265.20 L200.60 265.35 L201.46 265.46 L202.35 265.54 L203.24 265.61 L204.13 265.68 L205.03 265.76 L205.90 265.88 L206.76 266.04 L207.59 266.27 L208.38 266.56 L209.15 266.93 L209.90 267.35 L210.64 267.81 L211.35 268.31 L212.05 268.86 L212.73 269.44 L213.39 270.05 L214.02 270.69 L214.64 271.35 L215.23 272.04 L215.84 272.83 L216.42 273.66 L216.97 274.54 L217.49 275.44 L217.98 276.39 L218.46 277.37 L218.92 278.38 L219.38 279.43 L219.83 280.50 L220.28 281.61 L220.85 283.10 L221.40 284.69 L221.92 286.36 L222.42 288.08 L222.91 289.85 L223.39 291.64 L223.87 293.44 L224.35 295.23 L224.84 296.99 L225.34 298.71 L225.84 300.35 L226.35 301.96 L226.86 303.55 L227.37 305.14 L227.89 306.72 L228.40 308.33 L228.90 309.96 L229.41 311.63 L229.91 313.35 L230.40 315.13 L230.96 317.34 L231.49 319.59 L231.99 321.88 L232.48 324.22 L232.98 326.61 L233.50 329.07 L234.05 331.61 L234.65 334.23 L235.31 336.94 L236.05 339.75 L237.26 344.01 L238.62 348.55 L240.12 353.31 L241.71 358.26 L243.37 363.34 L245.08 368.51 L246.80 373.71 L248.52 378.89 L250.20 384.00 L251.82 389.00" fill="none" stroke="#00ff00" stroke-width="1.7"/>
<path d="M51.60 326.07 L52.20 326.01 L52.79 325.97 L53.39 325.93 L53.99 325.89 L54.59 325.85 L55.19 325.80 L55.78 325.73 L56.38 325.65 L56.97 325.53 L57.55 325.39 L58.16 325.21 L58.77 325.01 L59.37 324.78 L59.98 324.54 L60.58 324.28 L61.17 323.99 L61.77 323.69 L62.35 323.36 L62.93 323.02 L63.50 322.65 L64.13 322.22 L64.76 321.78 L65.39 321.31 L66.01 320.82 L66.62 320.30 L67.22 319.75 L67.80 319.16 L68.37 318.54 L68.92 317.88 L69.45 317.18 L70.09 316.19 L70.68 315.11 L71.23 313.94 L71.75 312.71 L72.26 311.43 L72.75 310.12 L73.24 308.79 L73.74 307.46 L74.26 306.15 L74.81 304.87 L75.41 303.53 L76.02 302.20 L76.65 300.86 L77.28 299.51 L77.92 298.16 L78.56 296.80 L79.19 295.42 L79.82 294.03 L80.44 292.62 L81.05 291.19 L81.70 289.61 L82.34 288.00 L82.97 286.36 L83.59 284.71 L84.21 283.04 L84.83 281.37 L85.45 279.69 L86.06 278.03 L86.68 276.39 L87.30 274.77 L87.89 273.20 L88.45 271.60 L89.01 269.97 L89.56 268.34 L90.12 266.73 L90.69 265.16 L91.28 263.66 L91.90 262.23 L92.55 260.92 L93.25 259.72 L93.79 258.92 L94.35 258.16 L94.93 257.42 L95.53 256.73 L96.13 256.08 L96.75 255.48 L97.36 254.92 L97.98 254.42 L98.59 253.96 L99.20 253.57 L99.64 253.31 L100.09 253.08 L100.53 252.87 L100.98 252.70 L101.43 252.54 L101.87 252.42 L102.32 252.32 L102.77 252.26 L103.22 252.21 L103.66 252.20 L104.10 252.23 L104.53 252.30 L104.95 252.41 L105.37 252.55 L105.79 252.71 L106.23 252.88 L106.67 253.07 L107.13 253.25 L107.61 253.42 L108.12 253.57 L108.88 253.77 L109.69 253.99 L110.53 254.21 L111.40 254.44 L112.30 254.67 L113.23 254.89 L114.17 255.10 L115.13 255.29 L116.09 255.47 L117.05 255.62 L118.17 255.76 L119.31 255.88 L120.49 255.98 L121.68 256.05 L122.88 256.12 L124.10 256.16 L125.32 256.20 L126.54 256.24 L127.75 256.27 L128.95 256.30 L130.13 256.33 L131.31 256.35 L132.48 256.35 L133.65 256.35 L134.82 256.35 L135.99 256.34 L137.18 256.33 L138.38 256.31 L139.61 256.31 L140.85 256.30 L142.28 256.30 L143.75 256.29 L145.24 256.28 L146.76 256.27 L148.29 256.25 L149.82 256.25 L151.33 256.24 L152.83 256.25 L154.30 256.27 L155.72 256.30 L156.97 256.34 L158.19 256.39 L159.39 256.44 L160.58 256.50 L161.76 256.56 L162.93 256.63 L164.10 256.71 L165.27 256.80 L166.44 256.89 L167.62 256.99 L168.83 257.10 L170.07 257.23 L171.33 257.36 L172.58 257.51 L173.83 257.66 L175.06 257.81 L176.26 257.96 L177.41 258.10 L178.50 258.24 L179.52 258.36 L180.21 258.43 L180.87 258.48 L181.52 258.52 L182.14 258.55 L182.74 258.59 L183.32 258.64 L183.89 258.70 L184.43 258.78 L184.96 258.89 L185.47 259.04 L185.88 259.18 L186.26 259.34 L186.62 259.52 L186.97 259.70 L187.30 259.90 L187.64 260.11 L187.97 260.34 L188.32 260.58 L188.67 260.83 L189.05 261.09 L189.57 261.48 L190.11 261.91 L190.67 262.37 L191.24 262.86 L191.81 263.37 L192.39 263.89 L192.97 264.41 L193.55 264.92 L194.13 265.41 L194.70 265.88 L195.24 266.30 L195.79 266.69 L196.34 267.07 L196.89 267.43 L197.44 267.80 L197.99 268.18 L198.52 268.58 L199.05 269.01 L199.56 269.47 L200.05 269.98 L200.62 270.65 L201.16 271.35 L201.67 272.09 L202.17 272.87 L202.66 273.69 L203.15 274.53 L203.63 275.41 L204.11 276.31 L204.60 277.24 L205.11 278.19 L205.79 279.49 L206.47 280.87 L207.16 282.31 L207.86 283.80 L208.55 285.34 L209.25 286.90 L209.94 288.49 L210.62 290.08 L211.29 291.67 L211.95 293.24 L212.63 294.89 L213.31 296.56 L213.97 298.23 L214.63 299.92 L215.28 301.62 L215.92 303.34 L216.57 305.07 L217.21 306.81 L217.85 308.57 L218.50 310.34 L219.19 312.28 L219.87 314.28 L220.55 316.32 L221.23 318.38 L221.90 320.44 L222.58 322.49 L223.26 324.50 L223.95 326.47 L224.64 328.37 L225.34 330.18 L225.91 331.56 L226.47 332.84 L227.01 334.04 L227.56 335.20 L228.12 336.36 L228.69 337.53 L229.28 338.77 L229.91 340.10 L230.58 341.56 L231.29 343.17 L232.76 346.61 L234.40 350.54 L236.18 354.85 L238.07 359.48 L240.04 364.33 L242.06 369.32 L244.10 374.36 L246.12 379.38 L248.11 384.29 L250.03 389.00" fill="none" stroke="#808000" stroke-width="1.7"/>
<path d="M51.60 321.97 L52.20 321.91 L52.80 321.88 L53.40 321.85 L54.00 321.83 L54.61 321.81 L55.21 321.77 L55.80 321.70 L56.39 321.61 L56.98 321.47 L57.55 321.28 L58.18 321.03 L58.80 320.73 L59.43 320.40 L60.04 320.03 L60.65 319.63 L61.25 319.19 L61.84 318.73 L62.41 318.24 L62.97 317.72 L63.50 317.18 L64.09 316.52 L64.64 315.82 L65.17 315.08 L65.67 314.31 L66.16 313.49 L66.64 312.64 L67.12 311.77 L67.59 310.86 L68.07 309.93 L68.56 308.97 L69.20 307.66 L69.83 306.26 L70.47 304.79 L71.09 303.25 L71.72 301.69 L72.34 300.10 L72.96 298.51 L73.57 296.94 L74.19 295.40 L74.81 293.92 L75.37 292.57 L75.93 291.21 L76.49 289.84 L77.04 288.49 L77.59 287.15 L78.14 285.83 L78.70 284.54 L79.27 283.29 L79.86 282.08 L80.46 280.93 L80.96 280.00 L81.47 279.09 L81.97 278.20 L82.49 277.33 L83.01 276.49 L83.54 275.68 L84.08 274.89 L84.64 274.13 L85.21 273.41 L85.81 272.72 L86.35 272.14 L86.91 271.57 L87.47 271.03 L88.04 270.51 L88.63 270.01 L89.22 269.54 L89.84 269.09 L90.46 268.68 L91.10 268.29 L91.76 267.93 L92.44 267.61 L93.14 267.33 L93.86 267.09 L94.59 266.88 L95.34 266.69 L96.10 266.51 L96.87 266.35 L97.64 266.20 L98.42 266.04 L99.20 265.88 L100.05 265.71 L100.91 265.55 L101.77 265.40 L102.64 265.26 L103.52 265.13 L104.42 265.00 L105.32 264.88 L106.24 264.76 L107.18 264.64 L108.12 264.51 L109.25 264.37 L110.42 264.23 L111.62 264.09 L112.84 263.96 L114.07 263.83 L115.31 263.70 L116.53 263.56 L117.73 263.43 L118.90 263.29 L120.03 263.14 L120.97 263.02 L121.88 262.90 L122.76 262.79 L123.63 262.68 L124.50 262.56 L125.36 262.43 L126.23 262.30 L127.11 262.14 L128.02 261.97 L128.95 261.78 L130.08 261.50 L131.25 261.19 L132.45 260.83 L133.67 260.46 L134.90 260.07 L136.13 259.68 L137.35 259.30 L138.55 258.95 L139.72 258.63 L140.85 258.36 L141.79 258.16 L142.71 258.00 L143.61 257.86 L144.51 257.74 L145.39 257.62 L146.26 257.51 L147.14 257.40 L148.01 257.28 L148.89 257.15 L149.77 256.99 L150.67 256.81 L151.56 256.61 L152.46 256.40 L153.35 256.18 L154.24 255.96 L155.13 255.74 L156.02 255.52 L156.91 255.31 L157.81 255.12 L158.70 254.94 L159.59 254.77 L160.50 254.62 L161.41 254.48 L162.31 254.35 L163.22 254.22 L164.13 254.10 L165.02 253.97 L165.90 253.84 L166.77 253.71 L167.62 253.57 L168.38 253.42 L169.13 253.25 L169.87 253.06 L170.61 252.87 L171.34 252.69 L172.06 252.51 L172.76 252.37 L173.45 252.26 L174.12 252.20 L174.76 252.20 L175.28 252.24 L175.79 252.30 L176.29 252.39 L176.77 252.50 L177.24 252.63 L177.71 252.78 L178.17 252.96 L178.62 253.14 L179.08 253.35 L179.52 253.57 L180.00 253.82 L180.47 254.09 L180.93 254.38 L181.39 254.69 L181.84 255.02 L182.28 255.38 L182.72 255.75 L183.15 256.14 L183.57 256.55 L183.99 256.99 L184.47 257.55 L184.93 258.17 L185.36 258.83 L185.79 259.53 L186.21 260.24 L186.63 260.97 L187.06 261.71 L187.50 262.43 L187.96 263.14 L188.45 263.83 L188.99 264.54 L189.56 265.25 L190.15 265.97 L190.75 266.69 L191.36 267.40 L191.98 268.10 L192.59 268.78 L193.21 269.44 L193.81 270.07 L194.40 270.67 L194.89 271.12 L195.38 271.54 L195.88 271.92 L196.38 272.29 L196.87 272.64 L197.36 273.01 L197.83 273.39 L198.29 273.80 L198.74 274.26 L199.16 274.77 L199.65 275.48 L200.10 276.26 L200.51 277.08 L200.91 277.95 L201.29 278.86 L201.66 279.79 L202.04 280.75 L202.44 281.72 L202.87 282.69 L203.32 283.66 L203.93 284.87 L204.58 286.11 L205.25 287.38 L205.94 288.67 L206.65 289.99 L207.37 291.32 L208.08 292.65 L208.79 293.99 L209.49 295.33 L210.17 296.66 L210.84 297.99 L211.52 299.32 L212.20 300.63 L212.88 301.95 L213.55 303.28 L214.21 304.63 L214.86 306.00 L215.50 307.40 L216.11 308.85 L216.71 310.34 L217.37 312.18 L217.98 314.12 L218.56 316.14 L219.11 318.21 L219.65 320.30 L220.20 322.39 L220.76 324.45 L221.35 326.45 L221.98 328.37 L222.66 330.18 L223.27 331.57 L223.91 332.85 L224.56 334.05 L225.23 335.20 L225.91 336.34 L226.61 337.51 L227.32 338.74 L228.04 340.07 L228.77 341.53 L229.50 343.17 L230.88 346.59 L232.31 350.50 L233.79 354.81 L235.32 359.44 L236.87 364.29 L238.44 369.29 L240.01 374.35 L241.59 379.38 L243.14 384.29 L244.68 389.00" fill="none" stroke="#008000" stroke-width="1.7"/>
<path d="M51.60 297.34 L52.19 297.49 L52.78 297.67 L53.37 297.85 L53.95 298.04 L54.54 298.22 L55.12 298.38 L55.72 298.52 L56.32 298.63 L56.93 298.70 L57.55 298.71 L58.26 298.67 L58.99 298.57 L59.73 298.43 L60.48 298.25 L61.24 298.04 L62.00 297.79 L62.76 297.53 L63.51 297.25 L64.25 296.96 L64.99 296.66 L65.75 296.34 L66.52 295.99 L67.28 295.62 L68.04 295.23 L68.80 294.82 L69.55 294.40 L70.29 293.96 L71.02 293.50 L71.73 293.03 L72.43 292.56 L73.09 292.06 L73.73 291.55 L74.36 291.01 L74.97 290.46 L75.57 289.89 L76.17 289.32 L76.78 288.75 L77.39 288.18 L78.02 287.63 L78.67 287.08 L79.38 286.52 L80.10 285.95 L80.84 285.38 L81.58 284.82 L82.33 284.26 L83.08 283.70 L83.84 283.16 L84.60 282.63 L85.36 282.11 L86.11 281.61 L86.82 281.16 L87.53 280.72 L88.25 280.29 L88.97 279.87 L89.69 279.46 L90.41 279.06 L91.12 278.67 L91.84 278.28 L92.54 277.89 L93.25 277.51 L93.91 277.15 L94.56 276.79 L95.21 276.44 L95.86 276.10 L96.50 275.76 L97.15 275.42 L97.80 275.09 L98.46 274.75 L99.12 274.42 L99.80 274.09 L100.52 273.73 L101.25 273.37 L101.99 273.01 L102.74 272.65 L103.49 272.29 L104.24 271.94 L104.99 271.60 L105.74 271.27 L106.49 270.96 L107.23 270.67 L107.92 270.42 L108.59 270.19 L109.26 269.98 L109.93 269.78 L110.60 269.59 L111.28 269.41 L111.96 269.22 L112.65 269.03 L113.35 268.83 L114.08 268.62 L114.92 268.36 L115.78 268.08 L116.66 267.80 L117.56 267.52 L118.46 267.23 L119.37 266.95 L120.28 266.66 L121.19 266.39 L122.10 266.13 L123.00 265.88 L123.89 265.65 L124.78 265.44 L125.67 265.24 L126.57 265.04 L127.46 264.85 L128.36 264.66 L129.25 264.47 L130.14 264.27 L131.04 264.06 L131.93 263.83 L132.82 263.58 L133.72 263.31 L134.62 263.04 L135.52 262.75 L136.42 262.47 L137.31 262.18 L138.21 261.89 L139.09 261.61 L139.97 261.35 L140.85 261.09 L141.67 260.85 L142.49 260.60 L143.30 260.35 L144.12 260.09 L144.92 259.85 L145.73 259.63 L146.52 259.42 L147.32 259.25 L148.10 259.12 L148.88 259.04 L149.58 259.01 L150.28 259.01 L150.96 259.05 L151.64 259.11 L152.32 259.19 L152.99 259.29 L153.67 259.40 L154.35 259.51 L155.03 259.62 L155.73 259.72 L156.46 259.83 L157.20 259.95 L157.94 260.08 L158.69 260.22 L159.44 260.36 L160.19 260.51 L160.93 260.66 L161.68 260.81 L162.42 260.95 L163.16 261.09 L163.88 261.22 L164.60 261.33 L165.32 261.44 L166.04 261.55 L166.76 261.66 L167.47 261.78 L168.19 261.91 L168.90 262.07 L169.60 262.25 L170.30 262.46 L171.03 262.71 L171.75 262.99 L172.48 263.29 L173.19 263.61 L173.91 263.94 L174.62 264.30 L175.33 264.67 L176.04 265.06 L176.74 265.46 L177.44 265.88 L178.20 266.34 L178.96 266.82 L179.72 267.31 L180.48 267.82 L181.24 268.35 L181.99 268.90 L182.73 269.48 L183.46 270.07 L184.18 270.70 L184.88 271.35 L185.64 272.12 L186.39 272.93 L187.11 273.79 L187.83 274.67 L188.53 275.58 L189.23 276.51 L189.93 277.45 L190.62 278.39 L191.32 279.32 L192.02 280.24 L192.74 281.18 L193.45 282.14 L194.15 283.10 L194.86 284.07 L195.56 285.04 L196.27 286.01 L196.98 286.98 L197.69 287.94 L198.42 288.89 L199.16 289.82 L199.91 290.73 L200.69 291.61 L201.48 292.47 L202.28 293.33 L203.08 294.18 L203.88 295.04 L204.67 295.92 L205.44 296.82 L206.18 297.75 L206.89 298.71 L207.62 299.77 L208.32 300.84 L209.00 301.92 L209.66 303.03 L210.30 304.16 L210.93 305.32 L211.56 306.52 L212.18 307.75 L212.81 309.02 L213.44 310.34 L214.24 312.12 L215.04 314.06 L215.84 316.10 L216.63 318.22 L217.42 320.36 L218.20 322.50 L218.96 324.59 L219.71 326.59 L220.45 328.47 L221.18 330.18 L221.67 331.25 L222.14 332.20 L222.59 333.07 L223.04 333.89 L223.48 334.70 L223.93 335.53 L224.40 336.41 L224.88 337.39 L225.39 338.49 L225.94 339.75 L227.26 343.11 L228.72 347.12 L230.31 351.68 L231.99 356.66 L233.73 361.96 L235.52 367.44 L237.33 373.01 L239.13 378.53 L240.89 383.90 L242.60 389.00" fill="none" stroke="#0000a0" stroke-width="1.7"/>
<path d="M51.60 293.24 L52.68 293.32 L53.79 293.42 L54.91 293.53 L56.03 293.65 L57.14 293.76 L58.24 293.85 L59.31 293.92 L60.36 293.96 L61.36 293.97 L62.31 293.92 L63.01 293.86 L63.68 293.79 L64.32 293.69 L64.95 293.58 L65.56 293.46 L66.17 293.31 L66.76 293.15 L67.36 292.97 L67.95 292.77 L68.56 292.56 L69.20 292.30 L69.83 292.00 L70.46 291.68 L71.08 291.33 L71.70 290.97 L72.32 290.60 L72.94 290.23 L73.56 289.85 L74.18 289.49 L74.81 289.14 L75.43 288.79 L76.05 288.44 L76.67 288.09 L77.30 287.74 L77.92 287.39 L78.54 287.04 L79.17 286.70 L79.79 286.36 L80.42 286.03 L81.05 285.72 L81.67 285.42 L82.29 285.14 L82.90 284.86 L83.52 284.60 L84.14 284.33 L84.76 284.07 L85.38 283.81 L86.02 283.54 L86.65 283.27 L87.30 282.98 L88.02 282.66 L88.75 282.32 L89.49 281.99 L90.23 281.64 L90.98 281.30 L91.73 280.95 L92.49 280.60 L93.24 280.25 L93.99 279.90 L94.74 279.56 L95.48 279.22 L96.21 278.88 L96.93 278.54 L97.65 278.20 L98.38 277.86 L99.11 277.52 L99.85 277.18 L100.61 276.83 L101.38 276.49 L102.17 276.14 L103.13 275.74 L104.12 275.34 L105.14 274.94 L106.18 274.53 L107.23 274.13 L108.28 273.72 L109.32 273.31 L110.34 272.89 L111.33 272.47 L112.29 272.04 L113.11 271.64 L113.90 271.22 L114.66 270.79 L115.41 270.35 L116.15 269.92 L116.90 269.48 L117.65 269.07 L118.41 268.66 L119.20 268.28 L120.03 267.93 L120.96 267.58 L121.95 267.26 L122.98 266.96 L124.03 266.67 L125.08 266.40 L126.12 266.14 L127.13 265.90 L128.10 265.66 L129.01 265.43 L129.84 265.20 L130.35 265.04 L130.83 264.87 L131.27 264.70 L131.70 264.54 L132.11 264.38 L132.52 264.23 L132.94 264.10 L133.37 263.99 L133.82 263.89 L134.31 263.83 L134.95 263.79 L135.62 263.79 L136.31 263.82 L137.03 263.88 L137.76 263.97 L138.50 264.07 L139.24 264.18 L139.98 264.29 L140.72 264.41 L141.44 264.51 L142.18 264.62 L142.93 264.75 L143.67 264.89 L144.42 265.04 L145.16 265.20 L145.91 265.35 L146.66 265.50 L147.40 265.64 L148.14 265.77 L148.88 265.88 L149.60 265.97 L150.32 266.05 L151.03 266.11 L151.75 266.17 L152.46 266.22 L153.17 266.27 L153.89 266.33 L154.60 266.39 L155.31 266.47 L156.02 266.56 L156.74 266.67 L157.46 266.77 L158.17 266.88 L158.89 267.00 L159.61 267.13 L160.32 267.26 L161.03 267.41 L161.75 267.57 L162.46 267.74 L163.16 267.93 L163.89 268.15 L164.61 268.37 L165.33 268.62 L166.04 268.87 L166.76 269.14 L167.47 269.42 L168.19 269.72 L168.89 270.02 L169.60 270.34 L170.30 270.67 L171.03 271.03 L171.75 271.41 L172.46 271.81 L173.17 272.22 L173.88 272.64 L174.59 273.07 L175.30 273.50 L176.01 273.93 L176.72 274.36 L177.44 274.77 L178.18 275.18 L178.93 275.57 L179.69 275.95 L180.45 276.33 L181.22 276.71 L181.97 277.10 L182.72 277.51 L183.46 277.94 L184.18 278.39 L184.88 278.88 L185.58 279.40 L186.26 279.95 L186.93 280.52 L187.58 281.10 L188.23 281.71 L188.87 282.34 L189.51 282.98 L190.14 283.65 L190.78 284.33 L191.43 285.03 L192.18 285.88 L192.94 286.78 L193.70 287.72 L194.45 288.68 L195.21 289.67 L195.96 290.67 L196.70 291.67 L197.43 292.66 L198.15 293.65 L198.86 294.61 L199.52 295.50 L200.16 296.39 L200.79 297.27 L201.41 298.14 L202.02 299.02 L202.64 299.90 L203.25 300.79 L203.86 301.68 L204.48 302.58 L205.11 303.50 L205.79 304.48 L206.49 305.45 L207.19 306.42 L207.89 307.39 L208.60 308.38 L209.30 309.39 L209.99 310.43 L210.66 311.49 L211.32 312.60 L211.95 313.76 L212.69 315.24 L213.40 316.83 L214.09 318.49 L214.76 320.22 L215.42 321.97 L216.06 323.72 L216.68 325.44 L217.30 327.11 L217.90 328.70 L218.50 330.18 L218.93 331.21 L219.34 332.14 L219.73 333.00 L220.10 333.83 L220.48 334.65 L220.86 335.50 L221.26 336.40 L221.69 337.39 L222.15 338.50 L222.66 339.75 L223.98 343.12 L225.51 347.14 L227.21 351.70 L229.04 356.68 L230.97 361.97 L232.97 367.46 L234.98 373.02 L236.99 378.54 L238.94 383.90 L240.81 389.00" fill="none" stroke="#0000ff" stroke-width="1.7"/>
<path d="M51.60 289.14 L52.07 289.35 L52.54 289.57 L53.00 289.79 L53.47 290.02 L53.93 290.25 L54.40 290.47 L54.88 290.67 L55.36 290.86 L55.85 291.04 L56.36 291.19 L56.92 291.33 L57.49 291.46 L58.08 291.57 L58.67 291.67 L59.28 291.75 L59.88 291.82 L60.49 291.86 L61.10 291.89 L61.71 291.89 L62.31 291.87 L62.93 291.83 L63.56 291.75 L64.18 291.66 L64.81 291.54 L65.44 291.40 L66.07 291.24 L66.69 291.07 L67.32 290.89 L67.94 290.70 L68.56 290.50 L69.19 290.28 L69.82 290.03 L70.44 289.76 L71.07 289.48 L71.69 289.18 L72.31 288.88 L72.93 288.58 L73.55 288.29 L74.18 288.02 L74.81 287.77 L75.43 287.54 L76.05 287.33 L76.67 287.13 L77.30 286.93 L77.93 286.74 L78.56 286.55 L79.18 286.36 L79.81 286.16 L80.43 285.94 L81.05 285.72 L81.68 285.47 L82.29 285.21 L82.90 284.95 L83.50 284.68 L84.11 284.40 L84.72 284.12 L85.34 283.83 L85.98 283.55 L86.63 283.26 L87.30 282.98 L88.12 282.64 L88.97 282.30 L89.84 281.94 L90.72 281.59 L91.62 281.23 L92.53 280.88 L93.45 280.54 L94.38 280.20 L95.30 279.87 L96.22 279.56 L97.19 279.25 L98.19 278.96 L99.20 278.67 L100.22 278.40 L101.24 278.13 L102.25 277.87 L103.24 277.60 L104.21 277.35 L105.15 277.09 L106.04 276.82 L106.72 276.61 L107.37 276.39 L108.00 276.17 L108.61 275.96 L109.21 275.74 L109.80 275.53 L110.40 275.33 L111.01 275.13 L111.64 274.95 L112.29 274.77 L113.02 274.60 L113.77 274.44 L114.52 274.29 L115.29 274.15 L116.06 274.03 L116.84 273.90 L117.63 273.78 L118.43 273.66 L119.22 273.53 L120.03 273.40 L120.88 273.26 L121.75 273.10 L122.61 272.95 L123.48 272.79 L124.36 272.63 L125.25 272.49 L126.15 272.35 L127.07 272.23 L128.00 272.12 L128.95 272.04 L130.08 271.96 L131.25 271.91 L132.46 271.88 L133.70 271.87 L134.94 271.87 L136.17 271.89 L137.40 271.92 L138.59 271.95 L139.75 271.99 L140.85 272.04 L141.72 272.07 L142.57 272.11 L143.40 272.15 L144.21 272.19 L145.00 272.25 L145.79 272.31 L146.57 272.39 L147.34 272.48 L148.11 272.59 L148.88 272.72 L149.62 272.87 L150.35 273.03 L151.07 273.21 L151.78 273.41 L152.49 273.62 L153.20 273.84 L153.91 274.07 L154.61 274.30 L155.32 274.53 L156.02 274.77 L156.74 275.02 L157.46 275.27 L158.18 275.52 L158.89 275.79 L159.61 276.06 L160.32 276.34 L161.03 276.62 L161.74 276.91 L162.45 277.21 L163.16 277.51 L163.88 277.82 L164.60 278.14 L165.32 278.47 L166.03 278.80 L166.75 279.14 L167.46 279.49 L168.17 279.84 L168.89 280.20 L169.59 280.56 L170.30 280.93 L171.02 281.31 L171.74 281.69 L172.46 282.08 L173.17 282.48 L173.89 282.88 L174.60 283.29 L175.31 283.71 L176.02 284.14 L176.73 284.58 L177.44 285.03 L178.19 285.53 L178.94 286.05 L179.69 286.59 L180.44 287.13 L181.18 287.69 L181.93 288.25 L182.67 288.82 L183.41 289.39 L184.15 289.95 L184.88 290.50 L185.61 291.04 L186.34 291.58 L187.07 292.11 L187.80 292.65 L188.53 293.18 L189.25 293.72 L189.96 294.27 L190.66 294.83 L191.35 295.39 L192.02 295.98 L192.65 296.55 L193.26 297.12 L193.85 297.69 L194.44 298.27 L195.01 298.86 L195.58 299.46 L196.16 300.09 L196.75 300.74 L197.35 301.42 L197.97 302.13 L198.82 303.12 L199.69 304.15 L200.60 305.23 L201.51 306.35 L202.44 307.51 L203.36 308.71 L204.28 309.93 L205.18 311.19 L206.05 312.46 L206.89 313.76 L207.81 315.28 L208.72 316.88 L209.61 318.56 L210.49 320.28 L211.34 322.01 L212.18 323.75 L212.99 325.45 L213.76 327.11 L214.51 328.69 L215.22 330.18 L215.72 331.20 L216.18 332.13 L216.59 332.99 L216.99 333.82 L217.39 334.64 L217.78 335.49 L218.20 336.40 L218.65 337.39 L219.14 338.50 L219.69 339.75 L221.12 343.12 L222.80 347.14 L224.66 351.70 L226.67 356.69 L228.80 361.97 L230.99 367.46 L233.21 373.02 L235.41 378.54 L237.56 383.90 L239.62 389.00" fill="none" stroke="#800080" stroke-width="1.7"/>
</g>
<line x1="88.80" y1="306.40" x2="115.00" y2="306.40" stroke="#ff0000" stroke-width="1.7"/>
<text x="118.10" y="310.60" font-size="11.30" text-anchor="start" >2 K</text>
<line x1="137.30" y1="306.40" x2="163.50" y2="306.40" stroke="#ff0080" stroke-width="1.7"/>
<text x="166.60" y="310.60" font-size="11.30" text-anchor="start" >2.4 K</text>
<line x1="88.80" y1="321.00" x2="115.00" y2="321.00" stroke="#ff00ff" stroke-width="1.7"/>
<text x="118.10" y="325.20" font-size="11.30" text-anchor="start" >2.8 K</text>
<line x1="147.40" y1="321.00" x2="173.60" y2="321.00" stroke="#00ff00" stroke-width="1.7"/>
<text x="176.70" y="325.20" font-size="11.30" text-anchor="start" >3 K</text>
<line x1="88.80" y1="335.60" x2="115.00" y2="335.60" stroke="#808000" stroke-width="1.7"/>
<text x="118.10" y="339.80" font-size="11.30" text-anchor="start" >3.2 K</text>
<line x1="147.40" y1="335.60" x2="173.60" y2="335.60" stroke="#008000" stroke-width="1.7"/>
<text x="176.70" y="339.80" font-size="11.30" text-anchor="start" >3.4 K</text>
<line x1="88.80" y1="350.20" x2="115.00" y2="350.20" stroke="#0000a0" stroke-width="1.7"/>
<text x="118.10" y="354.40" font-size="11.30" text-anchor="start" >3.6 K</text>
<line x1="147.40" y1="350.20" x2="173.60" y2="350.20" stroke="#0000ff" stroke-width="1.7"/>
<text x="176.70" y="354.40" font-size="11.30" text-anchor="start" >3.8 K</text>
<line x1="88.80" y1="364.80" x2="115.00" y2="364.80" stroke="#800080" stroke-width="1.7"/>
<text x="118.10" y="369.00" font-size="11.30" text-anchor="start" >4 K</text>
<line x1="350.38" y1="385.40" x2="350.38" y2="382.90" stroke="#000" stroke-width="1.20"/>
<line x1="365.25" y1="385.40" x2="365.25" y2="381.40" stroke="#000" stroke-width="1.20"/>
<line x1="380.12" y1="385.40" x2="380.12" y2="382.90" stroke="#000" stroke-width="1.20"/>
<line x1="395.00" y1="385.40" x2="395.00" y2="381.40" stroke="#000" stroke-width="1.20"/>
<line x1="409.88" y1="385.40" x2="409.88" y2="382.90" stroke="#000" stroke-width="1.20"/>
<line x1="424.75" y1="385.40" x2="424.75" y2="381.40" stroke="#000" stroke-width="1.20"/>
<line x1="439.62" y1="385.40" x2="439.62" y2="382.90" stroke="#000" stroke-width="1.20"/>
<line x1="454.50" y1="385.40" x2="454.50" y2="381.40" stroke="#000" stroke-width="1.20"/>
<line x1="469.38" y1="385.40" x2="469.38" y2="382.90" stroke="#000" stroke-width="1.20"/>
<line x1="484.25" y1="385.40" x2="484.25" y2="381.40" stroke="#000" stroke-width="1.20"/>
<line x1="499.12" y1="385.40" x2="499.12" y2="382.90" stroke="#000" stroke-width="1.20"/>
<line x1="514.00" y1="385.40" x2="514.00" y2="381.40" stroke="#000" stroke-width="1.20"/>
<line x1="528.88" y1="385.40" x2="528.88" y2="382.90" stroke="#000" stroke-width="1.20"/>
<line x1="543.75" y1="385.40" x2="543.75" y2="381.40" stroke="#000" stroke-width="1.20"/>
<line x1="558.62" y1="385.40" x2="558.62" y2="382.90" stroke="#000" stroke-width="1.20"/>
<line x1="335.50" y1="368.33" x2="338.00" y2="368.33" stroke="#000" stroke-width="1.20"/>
<line x1="335.50" y1="351.26" x2="339.50" y2="351.26" stroke="#000" stroke-width="1.20"/>
<line x1="335.50" y1="334.19" x2="338.00" y2="334.19" stroke="#000" stroke-width="1.20"/>
<line x1="335.50" y1="317.12" x2="339.50" y2="317.12" stroke="#000" stroke-width="1.20"/>
<line x1="335.50" y1="300.05" x2="338.00" y2="300.05" stroke="#000" stroke-width="1.20"/>
<line x1="335.50" y1="282.98" x2="339.50" y2="282.98" stroke="#000" stroke-width="1.20"/>
<line x1="335.50" y1="265.91" x2="338.00" y2="265.91" stroke="#000" stroke-width="1.20"/>
<line x1="335.50" y1="248.84" x2="339.50" y2="248.84" stroke="#000" stroke-width="1.20"/>
<line x1="335.50" y1="231.77" x2="338.00" y2="231.77" stroke="#000" stroke-width="1.20"/>
<text x="335.50" y="398.30" font-size="11.00" text-anchor="middle" >0</text>
<text x="365.25" y="398.30" font-size="11.00" text-anchor="middle" >1</text>
<text x="395.00" y="398.30" font-size="11.00" text-anchor="middle" >2</text>
<text x="424.75" y="398.30" font-size="11.00" text-anchor="middle" >3</text>
<text x="454.50" y="398.30" font-size="11.00" text-anchor="middle" >4</text>
<text x="484.25" y="398.30" font-size="11.00" text-anchor="middle" >5</text>
<text x="514.00" y="398.30" font-size="11.00" text-anchor="middle" >6</text>
<text x="543.75" y="398.30" font-size="11.00" text-anchor="middle" >7</text>
<text x="331.00" y="388.50" font-size="11.00" text-anchor="end" >2.0</text>
<text x="331.00" y="354.36" font-size="11.00" text-anchor="end" >2.4</text>
<text x="331.00" y="320.22" font-size="11.00" text-anchor="end" >2.8</text>
<text x="331.00" y="286.08" font-size="11.00" text-anchor="end" >3.2</text>
<text x="331.00" y="251.94" font-size="11.00" text-anchor="end" >3.6</text>
<text x="331.00" y="217.80" font-size="11.00" text-anchor="end" >4.0</text>
<text x="447.20" y="411.00" font-size="13.00" text-anchor="middle" >B (T)</text>
<text transform="translate(308.8 304.2) rotate(-90)" font-size="13.3" text-anchor="middle">T (K)</text>
<text x="285.30" y="227.40" font-size="16.70" text-anchor="start" >(d)</text>
<g clip-path="url(#clipd)">
<path d="M395.10 281.20 L399.69 283.01 L404.44 284.79 L409.28 286.54 L414.14 288.29 L418.95 290.05 L423.66 291.83 L428.18 293.66 L432.46 295.56 L436.42 297.53 L440.00 299.60 L442.29 301.10 L444.38 302.60 L446.31 304.10 L448.12 305.62 L449.83 307.19 L451.49 308.81 L453.13 310.50 L454.79 312.29 L456.50 314.18 L458.30 316.20 L460.73 319.09 L463.15 322.25 L465.56 325.63 L467.98 329.16 L470.41 332.81 L472.87 336.53 L475.37 340.25 L477.92 343.94 L480.53 347.54 L483.20 351.00 L486.03 354.44 L488.94 357.84 L491.91 361.22 L494.94 364.56 L498.01 367.89 L501.09 371.21 L504.19 374.52 L507.28 377.84 L510.36 381.16 L513.40 384.50" fill="none" stroke="#ff0000" stroke-width="1.6"/>
<path d="M439.50 248.70 L441.38 250.34 L443.25 251.97 L445.12 253.61 L446.99 255.24 L448.86 256.88 L450.73 258.51 L452.61 260.15 L454.50 261.80 L456.39 263.44 L458.30 265.10 L460.30 266.81 L462.34 268.52 L464.40 270.23 L466.47 271.95 L468.55 273.67 L470.61 275.39 L472.63 277.13 L474.62 278.87 L476.54 280.63 L478.40 282.40 L480.06 284.04 L481.68 285.69 L483.27 287.34 L484.82 289.00 L486.34 290.67 L487.83 292.35 L489.29 294.04 L490.72 295.74 L492.12 297.46 L493.50 299.20 L494.79 300.87 L496.05 302.51 L497.26 304.13 L498.45 305.77 L499.62 307.43 L500.76 309.13 L501.90 310.89 L503.03 312.72 L504.16 314.66 L505.30 316.70 L506.79 319.62 L508.24 322.77 L509.66 326.10 L511.06 329.57 L512.46 333.14 L513.87 336.76 L515.30 340.40 L516.78 344.01 L518.31 347.56 L519.90 351.00 L521.59 354.40 L523.33 357.78 L525.13 361.14 L526.96 364.49 L528.83 367.83 L530.71 371.16 L532.60 374.49 L534.48 377.82 L536.35 381.16 L538.20 384.50" fill="none" stroke="#ff0080" stroke-width="1.6"/>
<path d="M338.60 261.80 L339.79 262.01 L340.97 262.20 L342.14 262.39 L343.32 262.57 L344.50 262.75 L345.68 262.95 L346.87 263.17 L348.07 263.41 L349.28 263.68 L350.50 264.00 L351.88 264.39 L353.24 264.81 L354.59 265.25 L355.95 265.72 L357.33 266.22 L358.74 266.75 L360.19 267.33 L361.70 267.94 L363.26 268.60 L364.90 269.30 L367.49 270.46 L370.27 271.77 L373.20 273.20 L376.24 274.73 L379.37 276.33 L382.55 277.96 L385.74 279.62 L388.92 281.26 L392.05 282.86 L395.10 284.40 L398.05 285.84 L400.99 287.24 L403.94 288.60 L406.88 289.96 L409.82 291.32 L412.74 292.72 L415.65 294.17 L418.55 295.68 L421.44 297.29 L424.30 299.00 L427.34 300.94 L430.36 302.97 L433.36 305.08 L436.35 307.26 L439.32 309.51 L442.28 311.81 L445.23 314.17 L448.16 316.58 L451.09 319.02 L454.00 321.50 L457.08 324.18 L460.15 326.92 L463.20 329.72 L466.25 332.58 L469.27 335.49 L472.29 338.45 L475.29 341.44 L478.27 344.47 L481.24 347.52 L484.20 350.60 L487.24 353.84 L490.26 357.14 L493.25 360.49 L496.23 363.89 L499.20 367.31 L502.15 370.76 L505.11 374.21 L508.06 377.66 L511.03 381.09 L514.00 384.50" fill="none" stroke="#0000ff" stroke-width="1.6"/>
<path d="M338.60 218.60 L339.76 219.02 L340.92 219.45 L342.06 219.87 L343.21 220.30 L344.36 220.72 L345.51 221.15 L346.68 221.57 L347.87 221.99 L349.07 222.40 L350.30 222.80 L351.67 223.23 L353.04 223.65 L354.41 224.05 L355.80 224.45 L357.21 224.85 L358.66 225.25 L360.15 225.66 L361.70 226.08 L363.31 226.53 L365.00 227.00 L367.58 227.70 L370.35 228.43 L373.27 229.18 L376.31 229.95 L379.44 230.75 L382.61 231.59 L385.80 232.46 L388.97 233.36 L392.08 234.31 L395.10 235.30 L398.09 236.34 L401.08 237.40 L404.05 238.50 L407.02 239.64 L409.98 240.81 L412.93 242.03 L415.86 243.29 L418.79 244.61 L421.70 245.98 L424.60 247.40 L427.59 248.93 L430.58 250.52 L433.54 252.16 L436.50 253.85 L439.44 255.59 L442.38 257.38 L445.30 259.23 L448.21 261.13 L451.11 263.09 L454.00 265.10 L457.09 267.28 L460.18 269.48 L463.28 271.73 L466.37 274.02 L469.44 276.39 L472.48 278.85 L475.48 281.41 L478.45 284.10 L481.35 286.92 L484.20 289.90 L487.41 293.60 L490.52 297.56 L493.55 301.74 L496.52 306.10 L499.45 310.57 L502.35 315.13 L505.24 319.72 L508.13 324.29 L511.05 328.80 L514.00 333.20" fill="none" stroke="#0000a0" stroke-width="1.6"/>
<circle cx="395.10" cy="281.20" r="4" fill="#fff" stroke="#ff0000" stroke-width="1.3"/>
<circle cx="440.00" cy="299.60" r="4" fill="#fff" stroke="#ff0000" stroke-width="1.3"/>
<circle cx="458.30" cy="316.20" r="4" fill="#fff" stroke="#ff0000" stroke-width="1.3"/>
<circle cx="483.20" cy="351.00" r="4" fill="#fff" stroke="#ff0000" stroke-width="1.3"/>
<circle cx="513.40" cy="384.50" r="4" fill="#fff" stroke="#ff0000" stroke-width="1.3"/>
<circle cx="439.50" cy="248.70" r="4" fill="#fff" stroke="#ff0080" stroke-width="1.3"/>
<circle cx="458.30" cy="265.10" r="4" fill="#fff" stroke="#ff0080" stroke-width="1.3"/>
<circle cx="478.40" cy="282.40" r="4" fill="#fff" stroke="#ff0080" stroke-width="1.3"/>
<circle cx="493.50" cy="299.20" r="4" fill="#fff" stroke="#ff0080" stroke-width="1.3"/>
<circle cx="505.30" cy="316.70" r="4" fill="#fff" stroke="#ff0080" stroke-width="1.3"/>
<circle cx="519.90" cy="351.00" r="4" fill="#fff" stroke="#ff0080" stroke-width="1.3"/>
<circle cx="538.20" cy="384.50" r="4" fill="#fff" stroke="#ff0080" stroke-width="1.3"/>
<path d="M338.60 266.60 L333.90 258.60 L343.30 258.60 Z" fill="#fff" stroke="#0000ff" stroke-width="1.3"/>
<path d="M350.50 268.80 L345.80 260.80 L355.20 260.80 Z" fill="#fff" stroke="#0000ff" stroke-width="1.3"/>
<path d="M364.90 274.10 L360.20 266.10 L369.60 266.10 Z" fill="#fff" stroke="#0000ff" stroke-width="1.3"/>
<path d="M395.10 289.20 L390.40 281.20 L399.80 281.20 Z" fill="#fff" stroke="#0000ff" stroke-width="1.3"/>
<path d="M424.30 303.80 L419.60 295.80 L429.00 295.80 Z" fill="#fff" stroke="#0000ff" stroke-width="1.3"/>
<path d="M454.00 326.30 L449.30 318.30 L458.70 318.30 Z" fill="#fff" stroke="#0000ff" stroke-width="1.3"/>
<path d="M484.20 355.40 L479.50 347.40 L488.90 347.40 Z" fill="#fff" stroke="#0000ff" stroke-width="1.3"/>
<path d="M514.00 389.30 L509.30 381.30 L518.70 381.30 Z" fill="#fff" stroke="#0000ff" stroke-width="1.3"/>
<path d="M338.60 213.80 L333.90 221.80 L343.30 221.80 Z" fill="#fff" stroke="#0000a0" stroke-width="1.3"/>
<path d="M350.30 218.00 L345.60 226.00 L355.00 226.00 Z" fill="#fff" stroke="#0000a0" stroke-width="1.3"/>
<path d="M365.00 222.20 L360.30 230.20 L369.70 230.20 Z" fill="#fff" stroke="#0000a0" stroke-width="1.3"/>
<path d="M395.10 230.50 L390.40 238.50 L399.80 238.50 Z" fill="#fff" stroke="#0000a0" stroke-width="1.3"/>
<path d="M424.60 242.60 L419.90 250.60 L429.30 250.60 Z" fill="#fff" stroke="#0000a0" stroke-width="1.3"/>
<path d="M454.00 260.30 L449.30 268.30 L458.70 268.30 Z" fill="#fff" stroke="#0000a0" stroke-width="1.3"/>
<path d="M484.20 285.10 L479.50 293.10 L488.90 293.10 Z" fill="#fff" stroke="#0000a0" stroke-width="1.3"/>
<path d="M514.00 328.40 L509.30 336.40 L518.70 336.40 Z" fill="#fff" stroke="#0000a0" stroke-width="1.3"/>
</g>
<line x1="348.9" y1="319.70" x2="374.8" y2="319.70" stroke="#ff0000" stroke-width="1.6"/>
<circle cx="361.60" cy="319.70" r="4" fill="#fff" stroke="#ff0000" stroke-width="1.3"/>
<text x="377.80" y="324.00" font-size="11.30" text-anchor="start" >M-H-1</text>
<line x1="348.9" y1="334.20" x2="374.8" y2="334.20" stroke="#ff0080" stroke-width="1.6"/>
<circle cx="361.60" cy="334.20" r="4" fill="#fff" stroke="#ff0080" stroke-width="1.3"/>
<text x="377.80" y="338.50" font-size="11.30" text-anchor="start" >M-H-2</text>
<line x1="348.9" y1="349.30" x2="374.8" y2="349.30" stroke="#0000ff" stroke-width="1.6"/>
<path d="M361.60 354.10 L356.90 346.10 L366.30 346.10 Z" fill="#fff" stroke="#0000ff" stroke-width="1.3"/>
<text x="377.80" y="353.60" font-size="11.30" text-anchor="start" >M-T-1</text>
<line x1="348.9" y1="363.60" x2="374.8" y2="363.60" stroke="#0000a0" stroke-width="1.6"/>
<path d="M361.60 358.80 L356.90 366.80 L366.30 366.80 Z" fill="#fff" stroke="#0000a0" stroke-width="1.3"/>
<text x="377.80" y="367.90" font-size="11.30" text-anchor="start" >M-T-2</text>
<text x="492.00" y="266.20" font-size="14.50" text-anchor="start" >PM</text>
<text x="449.70" y="310.40" font-size="14.00" text-anchor="start" >AFM2</text>
<text x="424.10" y="354.40" font-size="14.00" text-anchor="start" >AFM1</text>
<rect x="51.50" y="4.60" width="223.20" height="170.30" fill="none" stroke="#000" stroke-width="1.50"/>
<rect x="334.70" y="5.80" width="223.30" height="169.70" fill="none" stroke="#000" stroke-width="1.50"/>
<rect x="51.60" y="215.00" width="223.10" height="170.30" fill="none" stroke="#000" stroke-width="1.50"/>
<rect x="335.50" y="214.70" width="223.30" height="170.70" fill="none" stroke="#000" stroke-width="1.50"/></svg>
</body></html>
